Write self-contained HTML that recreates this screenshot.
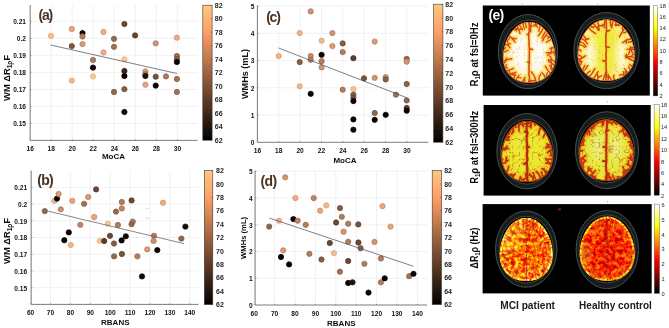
<!DOCTYPE html><html><head><meta charset="utf-8"><style>html,body{margin:0;padding:0;background:#fff}svg{display:block}</style></head><body><svg width="669" height="328" viewBox="0 0 669 328">
<defs>
<linearGradient id="gcopper" x1="0" y1="0" x2="0" y2="1"><stop offset="0.00" stop-color="#ffc77f"/><stop offset="0.10" stop-color="#ffb372"/><stop offset="0.20" stop-color="#ff9f65"/><stop offset="0.30" stop-color="#df8b59"/><stop offset="0.40" stop-color="#bf784c"/><stop offset="0.50" stop-color="#9f643f"/><stop offset="0.60" stop-color="#805033"/><stop offset="0.70" stop-color="#603c26"/><stop offset="0.80" stop-color="#402819"/><stop offset="0.90" stop-color="#20140d"/><stop offset="1.00" stop-color="#000000"/></linearGradient>
<linearGradient id="ghot" x1="0" y1="0" x2="0" y2="1"><stop offset="0.0000" stop-color="#ffffff"/><stop offset="0.0625" stop-color="#ffffbf"/><stop offset="0.1250" stop-color="#ffff80"/><stop offset="0.1875" stop-color="#ffff40"/><stop offset="0.2500" stop-color="#ffff00"/><stop offset="0.3125" stop-color="#ffd400"/><stop offset="0.3750" stop-color="#ffaa00"/><stop offset="0.4375" stop-color="#ff8000"/><stop offset="0.5000" stop-color="#ff5500"/><stop offset="0.5625" stop-color="#ff2a00"/><stop offset="0.6250" stop-color="#ff0000"/><stop offset="0.6875" stop-color="#d40000"/><stop offset="0.7500" stop-color="#aa0000"/><stop offset="0.8125" stop-color="#800000"/><stop offset="0.8750" stop-color="#550000"/><stop offset="0.9375" stop-color="#2a0000"/><stop offset="1.0000" stop-color="#000000"/></linearGradient>
<filter id="gsoft" x="0" y="0" width="669" height="328" filterUnits="userSpaceOnUse"><feGaussianBlur stdDeviation="0.3"/></filter>
<filter id="soft" x="-5%" y="-5%" width="110%" height="110%"><feGaussianBlur stdDeviation="0.35"/></filter><filter id="blur3" x="-50%" y="-50%" width="200%" height="200%"><feGaussianBlur stdDeviation="3"/></filter>
</defs>
<style>.tk{font:bold 6.6px "Liberation Sans", sans-serif;fill:#141414}.ttl{font:bold 8px "Liberation Sans", sans-serif;fill:#101010}.pl{font:bold 14px "Liberation Sans", sans-serif;fill:#4a3222}.cbl{font:bold 7px "Liberation Sans", sans-serif;fill:#262626}.yl{font:bold 9.4px "Liberation Sans", sans-serif;fill:#101010}.el{font:bold 11px "Liberation Sans", sans-serif;fill:#101010}.hb{font:5.6px "Liberation Sans", sans-serif;fill:#222}</style>
<rect width="669" height="328" fill="#ffffff"/>
<g filter="url(#gsoft)">
<line x1="30.15" y1="5" x2="30.15" y2="140.4" stroke="#ebebee" stroke-width="0.7"/>
<line x1="51.19" y1="5" x2="51.19" y2="140.4" stroke="#ebebee" stroke-width="0.7"/>
<line x1="72.23" y1="5" x2="72.23" y2="140.4" stroke="#ebebee" stroke-width="0.7"/>
<line x1="93.27" y1="5" x2="93.27" y2="140.4" stroke="#ebebee" stroke-width="0.7"/>
<line x1="114.31" y1="5" x2="114.31" y2="140.4" stroke="#ebebee" stroke-width="0.7"/>
<line x1="135.35" y1="5" x2="135.35" y2="140.4" stroke="#ebebee" stroke-width="0.7"/>
<line x1="156.39" y1="5" x2="156.39" y2="140.4" stroke="#ebebee" stroke-width="0.7"/>
<line x1="177.43" y1="5" x2="177.43" y2="140.4" stroke="#ebebee" stroke-width="0.7"/>
<line x1="30.2" y1="123.47" x2="197.5" y2="123.47" stroke="#ebebee" stroke-width="0.7"/>
<line x1="30.2" y1="106.44" x2="197.5" y2="106.44" stroke="#ebebee" stroke-width="0.7"/>
<line x1="30.2" y1="89.41" x2="197.5" y2="89.41" stroke="#ebebee" stroke-width="0.7"/>
<line x1="30.2" y1="72.38" x2="197.5" y2="72.38" stroke="#ebebee" stroke-width="0.7"/>
<line x1="30.2" y1="55.35" x2="197.5" y2="55.35" stroke="#ebebee" stroke-width="0.7"/>
<line x1="30.2" y1="38.32" x2="197.5" y2="38.32" stroke="#ebebee" stroke-width="0.7"/>
<line x1="30.2" y1="21.29" x2="197.5" y2="21.29" stroke="#ebebee" stroke-width="0.7"/>
<path d="M30.2 5V140.4H197.5" fill="none" stroke="#6e6e6e" stroke-width="0.9"/>
<line x1="30.15" y1="140.4" x2="30.15" y2="139.1" stroke="#6e6e6e" stroke-width="0.6"/>
<line x1="51.19" y1="140.4" x2="51.19" y2="139.1" stroke="#6e6e6e" stroke-width="0.6"/>
<line x1="72.23" y1="140.4" x2="72.23" y2="139.1" stroke="#6e6e6e" stroke-width="0.6"/>
<line x1="93.27" y1="140.4" x2="93.27" y2="139.1" stroke="#6e6e6e" stroke-width="0.6"/>
<line x1="114.31" y1="140.4" x2="114.31" y2="139.1" stroke="#6e6e6e" stroke-width="0.6"/>
<line x1="135.35" y1="140.4" x2="135.35" y2="139.1" stroke="#6e6e6e" stroke-width="0.6"/>
<line x1="156.39" y1="140.4" x2="156.39" y2="139.1" stroke="#6e6e6e" stroke-width="0.6"/>
<line x1="177.43" y1="140.4" x2="177.43" y2="139.1" stroke="#6e6e6e" stroke-width="0.6"/>
<line x1="30.2" y1="123.47" x2="31.5" y2="123.47" stroke="#6e6e6e" stroke-width="0.6"/>
<line x1="30.2" y1="106.44" x2="31.5" y2="106.44" stroke="#6e6e6e" stroke-width="0.6"/>
<line x1="30.2" y1="89.41" x2="31.5" y2="89.41" stroke="#6e6e6e" stroke-width="0.6"/>
<line x1="30.2" y1="72.38" x2="31.5" y2="72.38" stroke="#6e6e6e" stroke-width="0.6"/>
<line x1="30.2" y1="55.35" x2="31.5" y2="55.35" stroke="#6e6e6e" stroke-width="0.6"/>
<line x1="30.2" y1="38.32" x2="31.5" y2="38.32" stroke="#6e6e6e" stroke-width="0.6"/>
<line x1="30.2" y1="21.29" x2="31.5" y2="21.29" stroke="#6e6e6e" stroke-width="0.6"/>
<text x="30.15" y="151.0" text-anchor="middle" class="tk">16</text>
<text x="51.19" y="151.0" text-anchor="middle" class="tk">18</text>
<text x="72.23" y="151.0" text-anchor="middle" class="tk">20</text>
<text x="93.27" y="151.0" text-anchor="middle" class="tk">22</text>
<text x="114.31" y="151.0" text-anchor="middle" class="tk">24</text>
<text x="135.35" y="151.0" text-anchor="middle" class="tk">26</text>
<text x="156.39" y="151.0" text-anchor="middle" class="tk">28</text>
<text x="177.43" y="151.0" text-anchor="middle" class="tk">30</text>
<text x="26.0" y="126.32" text-anchor="end" class="tk">0.15</text>
<text x="26.0" y="109.29" text-anchor="end" class="tk">0.16</text>
<text x="26.0" y="92.26" text-anchor="end" class="tk">0.17</text>
<text x="26.0" y="75.23" text-anchor="end" class="tk">0.18</text>
<text x="26.0" y="58.20" text-anchor="end" class="tk">0.19</text>
<text x="26.0" y="41.17" text-anchor="end" class="tk">0.2</text>
<text x="26.0" y="24.14" text-anchor="end" class="tk">0.21</text>
<text x="113.5" y="159.0" text-anchor="middle" class="ttl">MoCA</text>
<text x="38.5" y="20.0" class="pl" letter-spacing="-1.25">(a)</text>
<circle cx="51.0" cy="35.9" r="2.65" fill="#f0c08f" stroke="#e4a179" stroke-width="0.75"/>
<circle cx="71.8" cy="29.0" r="2.65" fill="#eaa57b" stroke="#c08865" stroke-width="0.75"/>
<circle cx="71.8" cy="46.1" r="2.65" fill="#7b5741" stroke="#654836" stroke-width="0.75"/>
<circle cx="82.5" cy="33.1" r="2.65" fill="#090605" stroke="#070504" stroke-width="0.75"/>
<circle cx="82.5" cy="36.5" r="2.65" fill="#b07d5d" stroke="#90664c" stroke-width="0.75"/>
<circle cx="82.5" cy="44.1" r="2.65" fill="#dc9b74" stroke="#b4805f" stroke-width="0.75"/>
<circle cx="103.5" cy="32.0" r="2.65" fill="#ecae82" stroke="#cc906c" stroke-width="0.75"/>
<circle cx="103.5" cy="52.5" r="2.65" fill="#ecae82" stroke="#cc906c" stroke-width="0.75"/>
<circle cx="114" cy="38.8" r="2.65" fill="#92684d" stroke="#785540" stroke-width="0.75"/>
<circle cx="114" cy="46.8" r="2.65" fill="#a17255" stroke="#845d46" stroke-width="0.75"/>
<circle cx="93" cy="60" r="2.65" fill="#b07d5d" stroke="#90664c" stroke-width="0.75"/>
<circle cx="93" cy="67.6" r="2.65" fill="#090605" stroke="#070504" stroke-width="0.75"/>
<circle cx="93" cy="76.4" r="2.65" fill="#f2c996" stroke="#eba97e" stroke-width="0.75"/>
<circle cx="71.8" cy="80.6" r="2.65" fill="#efbb8b" stroke="#dd9c75" stroke-width="0.75"/>
<circle cx="114" cy="92" r="2.65" fill="#92684d" stroke="#785540" stroke-width="0.75"/>
<circle cx="124.4" cy="24" r="2.65" fill="#674936" stroke="#543b2c" stroke-width="0.75"/>
<circle cx="135.1" cy="35.4" r="2.65" fill="#634735" stroke="#523a2b" stroke-width="0.75"/>
<circle cx="155.7" cy="43.4" r="2.65" fill="#d2956f" stroke="#ad7a5c" stroke-width="0.75"/>
<circle cx="176.9" cy="37.7" r="2.65" fill="#ecae82" stroke="#cc906c" stroke-width="0.75"/>
<circle cx="124.4" cy="59.4" r="2.65" fill="#f2c996" stroke="#eba97e" stroke-width="0.75"/>
<circle cx="176.9" cy="56" r="2.65" fill="#a17255" stroke="#845d46" stroke-width="0.75"/>
<circle cx="176.9" cy="59" r="2.65" fill="#845d46" stroke="#6d4d39" stroke-width="0.75"/>
<circle cx="176.9" cy="62" r="2.65" fill="#090605" stroke="#070504" stroke-width="0.75"/>
<circle cx="124.4" cy="71" r="2.65" fill="#3b2a1f" stroke="#30221a" stroke-width="0.75"/>
<circle cx="124.4" cy="76" r="2.65" fill="#090605" stroke="#070504" stroke-width="0.75"/>
<circle cx="145.4" cy="71.4" r="2.65" fill="#dc9b74" stroke="#b4805f" stroke-width="0.75"/>
<circle cx="145.4" cy="74.2" r="2.65" fill="#b07d5d" stroke="#90664c" stroke-width="0.75"/>
<circle cx="145.4" cy="76" r="2.65" fill="#1d1510" stroke="#18110c" stroke-width="0.75"/>
<circle cx="155.7" cy="76.7" r="2.65" fill="#76533e" stroke="#604433" stroke-width="0.75"/>
<circle cx="166" cy="76.4" r="2.65" fill="#b07d5d" stroke="#90664c" stroke-width="0.75"/>
<circle cx="176.9" cy="79" r="2.65" fill="#a17255" stroke="#845d46" stroke-width="0.75"/>
<circle cx="145.4" cy="84.7" r="2.65" fill="#eaa57b" stroke="#c08865" stroke-width="0.75"/>
<circle cx="155.7" cy="85.6" r="2.65" fill="#090605" stroke="#070504" stroke-width="0.75"/>
<circle cx="124.4" cy="89.2" r="2.65" fill="#845d46" stroke="#6d4d39" stroke-width="0.75"/>
<circle cx="176.9" cy="92" r="2.65" fill="#a17255" stroke="#845d46" stroke-width="0.75"/>
<circle cx="124.4" cy="112" r="2.65" fill="#0f0a07" stroke="#0c0806" stroke-width="0.75"/>
<line x1="50.5" y1="45.0" x2="177" y2="73.5" stroke="#3e4a5e" stroke-width="0.7"/>
<rect x="202.8" y="5.2" width="9.299999999999983" height="135.0" fill="url(#gcopper)" stroke="#3a3a3a" stroke-width="0.6"/>
<line x1="210.9" y1="140.20" x2="212.1" y2="140.20" stroke="#3a3a3a" stroke-width="0.5"/>
<text x="214.8" y="142.80" class="cbl">62</text>
<line x1="210.9" y1="126.70" x2="212.1" y2="126.70" stroke="#3a3a3a" stroke-width="0.5"/>
<text x="214.8" y="129.30" class="cbl">64</text>
<line x1="210.9" y1="113.20" x2="212.1" y2="113.20" stroke="#3a3a3a" stroke-width="0.5"/>
<text x="214.8" y="115.80" class="cbl">66</text>
<line x1="210.9" y1="99.70" x2="212.1" y2="99.70" stroke="#3a3a3a" stroke-width="0.5"/>
<text x="214.8" y="102.30" class="cbl">68</text>
<line x1="210.9" y1="86.20" x2="212.1" y2="86.20" stroke="#3a3a3a" stroke-width="0.5"/>
<text x="214.8" y="88.80" class="cbl">70</text>
<line x1="210.9" y1="72.70" x2="212.1" y2="72.70" stroke="#3a3a3a" stroke-width="0.5"/>
<text x="214.8" y="75.30" class="cbl">72</text>
<line x1="210.9" y1="59.20" x2="212.1" y2="59.20" stroke="#3a3a3a" stroke-width="0.5"/>
<text x="214.8" y="61.80" class="cbl">74</text>
<line x1="210.9" y1="45.70" x2="212.1" y2="45.70" stroke="#3a3a3a" stroke-width="0.5"/>
<text x="214.8" y="48.30" class="cbl">76</text>
<line x1="210.9" y1="32.20" x2="212.1" y2="32.20" stroke="#3a3a3a" stroke-width="0.5"/>
<text x="214.8" y="34.80" class="cbl">78</text>
<line x1="210.9" y1="18.70" x2="212.1" y2="18.70" stroke="#3a3a3a" stroke-width="0.5"/>
<text x="214.8" y="21.30" class="cbl">80</text>
<line x1="210.9" y1="5.20" x2="212.1" y2="5.20" stroke="#3a3a3a" stroke-width="0.5"/>
<text x="214.8" y="7.80" class="cbl">82</text>
<line x1="30.60" y1="170.6" x2="30.60" y2="304.4" stroke="#ebebee" stroke-width="0.7"/>
<line x1="50.50" y1="170.6" x2="50.50" y2="304.4" stroke="#ebebee" stroke-width="0.7"/>
<line x1="70.40" y1="170.6" x2="70.40" y2="304.4" stroke="#ebebee" stroke-width="0.7"/>
<line x1="90.30" y1="170.6" x2="90.30" y2="304.4" stroke="#ebebee" stroke-width="0.7"/>
<line x1="110.20" y1="170.6" x2="110.20" y2="304.4" stroke="#ebebee" stroke-width="0.7"/>
<line x1="130.10" y1="170.6" x2="130.10" y2="304.4" stroke="#ebebee" stroke-width="0.7"/>
<line x1="150.00" y1="170.6" x2="150.00" y2="304.4" stroke="#ebebee" stroke-width="0.7"/>
<line x1="169.90" y1="170.6" x2="169.90" y2="304.4" stroke="#ebebee" stroke-width="0.7"/>
<line x1="189.80" y1="170.6" x2="189.80" y2="304.4" stroke="#ebebee" stroke-width="0.7"/>
<line x1="31.2" y1="287.68" x2="198.5" y2="287.68" stroke="#ebebee" stroke-width="0.7"/>
<line x1="31.2" y1="270.96" x2="198.5" y2="270.96" stroke="#ebebee" stroke-width="0.7"/>
<line x1="31.2" y1="254.24" x2="198.5" y2="254.24" stroke="#ebebee" stroke-width="0.7"/>
<line x1="31.2" y1="237.52" x2="198.5" y2="237.52" stroke="#ebebee" stroke-width="0.7"/>
<line x1="31.2" y1="220.80" x2="198.5" y2="220.80" stroke="#ebebee" stroke-width="0.7"/>
<line x1="31.2" y1="204.08" x2="198.5" y2="204.08" stroke="#ebebee" stroke-width="0.7"/>
<line x1="31.2" y1="187.36" x2="198.5" y2="187.36" stroke="#ebebee" stroke-width="0.7"/>
<path d="M31.2 170.6V304.4H198.5" fill="none" stroke="#6e6e6e" stroke-width="0.9"/>
<line x1="30.60" y1="304.4" x2="30.60" y2="303.09999999999997" stroke="#6e6e6e" stroke-width="0.6"/>
<line x1="50.50" y1="304.4" x2="50.50" y2="303.09999999999997" stroke="#6e6e6e" stroke-width="0.6"/>
<line x1="70.40" y1="304.4" x2="70.40" y2="303.09999999999997" stroke="#6e6e6e" stroke-width="0.6"/>
<line x1="90.30" y1="304.4" x2="90.30" y2="303.09999999999997" stroke="#6e6e6e" stroke-width="0.6"/>
<line x1="110.20" y1="304.4" x2="110.20" y2="303.09999999999997" stroke="#6e6e6e" stroke-width="0.6"/>
<line x1="130.10" y1="304.4" x2="130.10" y2="303.09999999999997" stroke="#6e6e6e" stroke-width="0.6"/>
<line x1="150.00" y1="304.4" x2="150.00" y2="303.09999999999997" stroke="#6e6e6e" stroke-width="0.6"/>
<line x1="169.90" y1="304.4" x2="169.90" y2="303.09999999999997" stroke="#6e6e6e" stroke-width="0.6"/>
<line x1="189.80" y1="304.4" x2="189.80" y2="303.09999999999997" stroke="#6e6e6e" stroke-width="0.6"/>
<line x1="31.2" y1="287.68" x2="32.5" y2="287.68" stroke="#6e6e6e" stroke-width="0.6"/>
<line x1="31.2" y1="270.96" x2="32.5" y2="270.96" stroke="#6e6e6e" stroke-width="0.6"/>
<line x1="31.2" y1="254.24" x2="32.5" y2="254.24" stroke="#6e6e6e" stroke-width="0.6"/>
<line x1="31.2" y1="237.52" x2="32.5" y2="237.52" stroke="#6e6e6e" stroke-width="0.6"/>
<line x1="31.2" y1="220.80" x2="32.5" y2="220.80" stroke="#6e6e6e" stroke-width="0.6"/>
<line x1="31.2" y1="204.08" x2="32.5" y2="204.08" stroke="#6e6e6e" stroke-width="0.6"/>
<line x1="31.2" y1="187.36" x2="32.5" y2="187.36" stroke="#6e6e6e" stroke-width="0.6"/>
<text x="30.60" y="315.2" text-anchor="middle" class="tk">60</text>
<text x="50.50" y="315.2" text-anchor="middle" class="tk">70</text>
<text x="70.40" y="315.2" text-anchor="middle" class="tk">80</text>
<text x="90.30" y="315.2" text-anchor="middle" class="tk">90</text>
<text x="110.20" y="315.2" text-anchor="middle" class="tk">100</text>
<text x="130.10" y="315.2" text-anchor="middle" class="tk">110</text>
<text x="150.00" y="315.2" text-anchor="middle" class="tk">120</text>
<text x="169.90" y="315.2" text-anchor="middle" class="tk">130</text>
<text x="189.80" y="315.2" text-anchor="middle" class="tk">140</text>
<text x="27.2" y="290.53" text-anchor="end" class="tk">0.15</text>
<text x="27.2" y="273.81" text-anchor="end" class="tk">0.16</text>
<text x="27.2" y="257.09" text-anchor="end" class="tk">0.17</text>
<text x="27.2" y="240.37" text-anchor="end" class="tk">0.18</text>
<text x="27.2" y="223.65" text-anchor="end" class="tk">0.19</text>
<text x="27.2" y="206.93" text-anchor="end" class="tk">0.2</text>
<text x="27.2" y="190.21" text-anchor="end" class="tk">0.21</text>
<text x="115.3" y="325.4" text-anchor="middle" class="ttl">RBANS</text>
<text x="37.3" y="185.1" class="pl" letter-spacing="-0.70">(b)</text>
<circle cx="44.8" cy="211.1" r="2.65" fill="#92684d" stroke="#785540" stroke-width="0.75"/>
<circle cx="54.4" cy="200.8" r="2.65" fill="#eeb788" stroke="#d89973" stroke-width="0.75"/>
<circle cx="57" cy="198.6" r="2.65" fill="#090605" stroke="#070504" stroke-width="0.75"/>
<circle cx="58.6" cy="194" r="2.65" fill="#dc9b74" stroke="#b4805f" stroke-width="0.75"/>
<circle cx="60.8" cy="209.3" r="2.65" fill="#cd906c" stroke="#a87659" stroke-width="0.75"/>
<circle cx="72.3" cy="200.8" r="2.65" fill="#eaa57b" stroke="#c08865" stroke-width="0.75"/>
<circle cx="84.1" cy="203.8" r="2.65" fill="#a17255" stroke="#845d46" stroke-width="0.75"/>
<circle cx="88.2" cy="197" r="2.65" fill="#dc9b74" stroke="#b4805f" stroke-width="0.75"/>
<circle cx="96.1" cy="189.4" r="2.65" fill="#674936" stroke="#543b2c" stroke-width="0.75"/>
<circle cx="94.2" cy="217.0" r="2.65" fill="#eaa57b" stroke="#c08865" stroke-width="0.75"/>
<circle cx="80.3" cy="224.8" r="2.65" fill="#be8664" stroke="#9c6e53" stroke-width="0.75"/>
<circle cx="68.8" cy="232.4" r="2.65" fill="#090605" stroke="#070504" stroke-width="0.75"/>
<circle cx="64.3" cy="240.2" r="2.65" fill="#090605" stroke="#070504" stroke-width="0.75"/>
<circle cx="70.7" cy="245.0" r="2.65" fill="#eeb788" stroke="#d89973" stroke-width="0.75"/>
<circle cx="107.8" cy="223.6" r="2.65" fill="#f2c996" stroke="#eba97e" stroke-width="0.75"/>
<circle cx="116.0" cy="211.6" r="2.65" fill="#92684d" stroke="#785540" stroke-width="0.75"/>
<circle cx="117.9" cy="225.0" r="2.65" fill="#b07d5d" stroke="#90664c" stroke-width="0.75"/>
<circle cx="110.0" cy="235.8" r="2.65" fill="#674936" stroke="#543b2c" stroke-width="0.75"/>
<circle cx="99.7" cy="240.8" r="2.65" fill="#f2c996" stroke="#eba97e" stroke-width="0.75"/>
<circle cx="104.2" cy="241.0" r="2.65" fill="#583e2e" stroke="#483326" stroke-width="0.75"/>
<circle cx="114.0" cy="243.5" r="2.65" fill="#845d46" stroke="#6d4d39" stroke-width="0.75"/>
<circle cx="121.8" cy="202.0" r="2.65" fill="#b07d5d" stroke="#90664c" stroke-width="0.75"/>
<circle cx="131.6" cy="200.4" r="2.65" fill="#674936" stroke="#543b2c" stroke-width="0.75"/>
<circle cx="121.8" cy="208.4" r="2.65" fill="#be8664" stroke="#9c6e53" stroke-width="0.75"/>
<circle cx="163.0" cy="202.7" r="2.65" fill="#ecae82" stroke="#cc906c" stroke-width="0.75"/>
<circle cx="132.8" cy="221.6" r="2.65" fill="#b07d5d" stroke="#90664c" stroke-width="0.75"/>
<circle cx="131.6" cy="224.2" r="2.65" fill="#92684d" stroke="#785540" stroke-width="0.75"/>
<circle cx="125.8" cy="236.3" r="2.65" fill="#0f0a07" stroke="#0c0806" stroke-width="0.75"/>
<circle cx="121.6" cy="240.4" r="2.65" fill="#090605" stroke="#070504" stroke-width="0.75"/>
<circle cx="154.0" cy="235.8" r="2.65" fill="#b07d5d" stroke="#90664c" stroke-width="0.75"/>
<circle cx="153.6" cy="240.9" r="2.65" fill="#cd906c" stroke="#a87659" stroke-width="0.75"/>
<circle cx="185.4" cy="226.6" r="2.65" fill="#0f0a07" stroke="#0c0806" stroke-width="0.75"/>
<circle cx="181.4" cy="238.6" r="2.65" fill="#92684d" stroke="#785540" stroke-width="0.75"/>
<circle cx="147.2" cy="249.4" r="2.65" fill="#dc9b74" stroke="#b4805f" stroke-width="0.75"/>
<circle cx="157.3" cy="250.1" r="2.65" fill="#090605" stroke="#070504" stroke-width="0.75"/>
<circle cx="114.1" cy="256.3" r="2.65" fill="#92684d" stroke="#785540" stroke-width="0.75"/>
<circle cx="121.9" cy="254.0" r="2.65" fill="#76533e" stroke="#604433" stroke-width="0.75"/>
<circle cx="137.4" cy="256.3" r="2.65" fill="#b07d5d" stroke="#90664c" stroke-width="0.75"/>
<circle cx="142.0" cy="276.4" r="2.65" fill="#0f0a07" stroke="#0c0806" stroke-width="0.75"/>
<line x1="47.8" y1="211.1" x2="184.2" y2="243.7" stroke="#5c5450" stroke-width="0.7"/>
<rect x="204.3" y="170.6" width="8.5" height="134.00000000000003" fill="url(#gcopper)" stroke="#3a3a3a" stroke-width="0.6"/>
<line x1="211.60000000000002" y1="304.60" x2="212.8" y2="304.60" stroke="#3a3a3a" stroke-width="0.5"/>
<text x="216.0" y="307.20" class="cbl">62</text>
<line x1="211.60000000000002" y1="291.20" x2="212.8" y2="291.20" stroke="#3a3a3a" stroke-width="0.5"/>
<text x="216.0" y="293.80" class="cbl">64</text>
<line x1="211.60000000000002" y1="277.80" x2="212.8" y2="277.80" stroke="#3a3a3a" stroke-width="0.5"/>
<text x="216.0" y="280.40" class="cbl">66</text>
<line x1="211.60000000000002" y1="264.40" x2="212.8" y2="264.40" stroke="#3a3a3a" stroke-width="0.5"/>
<text x="216.0" y="267.00" class="cbl">68</text>
<line x1="211.60000000000002" y1="251.00" x2="212.8" y2="251.00" stroke="#3a3a3a" stroke-width="0.5"/>
<text x="216.0" y="253.60" class="cbl">70</text>
<line x1="211.60000000000002" y1="237.60" x2="212.8" y2="237.60" stroke="#3a3a3a" stroke-width="0.5"/>
<text x="216.0" y="240.20" class="cbl">72</text>
<line x1="211.60000000000002" y1="224.20" x2="212.8" y2="224.20" stroke="#3a3a3a" stroke-width="0.5"/>
<text x="216.0" y="226.80" class="cbl">74</text>
<line x1="211.60000000000002" y1="210.80" x2="212.8" y2="210.80" stroke="#3a3a3a" stroke-width="0.5"/>
<text x="216.0" y="213.40" class="cbl">76</text>
<line x1="211.60000000000002" y1="197.40" x2="212.8" y2="197.40" stroke="#3a3a3a" stroke-width="0.5"/>
<text x="216.0" y="200.00" class="cbl">78</text>
<line x1="211.60000000000002" y1="184.00" x2="212.8" y2="184.00" stroke="#3a3a3a" stroke-width="0.5"/>
<text x="216.0" y="186.60" class="cbl">80</text>
<line x1="211.60000000000002" y1="170.60" x2="212.8" y2="170.60" stroke="#3a3a3a" stroke-width="0.5"/>
<text x="216.0" y="173.20" class="cbl">82</text>
<line x1="257.40" y1="5.5" x2="257.40" y2="142.3" stroke="#ebebee" stroke-width="0.7"/>
<line x1="278.76" y1="5.5" x2="278.76" y2="142.3" stroke="#ebebee" stroke-width="0.7"/>
<line x1="300.12" y1="5.5" x2="300.12" y2="142.3" stroke="#ebebee" stroke-width="0.7"/>
<line x1="321.48" y1="5.5" x2="321.48" y2="142.3" stroke="#ebebee" stroke-width="0.7"/>
<line x1="342.84" y1="5.5" x2="342.84" y2="142.3" stroke="#ebebee" stroke-width="0.7"/>
<line x1="364.20" y1="5.5" x2="364.20" y2="142.3" stroke="#ebebee" stroke-width="0.7"/>
<line x1="385.56" y1="5.5" x2="385.56" y2="142.3" stroke="#ebebee" stroke-width="0.7"/>
<line x1="406.92" y1="5.5" x2="406.92" y2="142.3" stroke="#ebebee" stroke-width="0.7"/>
<line x1="257.4" y1="115.05" x2="428.4" y2="115.05" stroke="#ebebee" stroke-width="0.7"/>
<line x1="257.4" y1="87.80" x2="428.4" y2="87.80" stroke="#ebebee" stroke-width="0.7"/>
<line x1="257.4" y1="60.55" x2="428.4" y2="60.55" stroke="#ebebee" stroke-width="0.7"/>
<line x1="257.4" y1="33.30" x2="428.4" y2="33.30" stroke="#ebebee" stroke-width="0.7"/>
<line x1="257.4" y1="6.05" x2="428.4" y2="6.05" stroke="#ebebee" stroke-width="0.7"/>
<path d="M257.4 5.5V142.3H428.4" fill="none" stroke="#6e6e6e" stroke-width="0.9"/>
<line x1="257.40" y1="142.3" x2="257.40" y2="141.0" stroke="#6e6e6e" stroke-width="0.6"/>
<line x1="278.76" y1="142.3" x2="278.76" y2="141.0" stroke="#6e6e6e" stroke-width="0.6"/>
<line x1="300.12" y1="142.3" x2="300.12" y2="141.0" stroke="#6e6e6e" stroke-width="0.6"/>
<line x1="321.48" y1="142.3" x2="321.48" y2="141.0" stroke="#6e6e6e" stroke-width="0.6"/>
<line x1="342.84" y1="142.3" x2="342.84" y2="141.0" stroke="#6e6e6e" stroke-width="0.6"/>
<line x1="364.20" y1="142.3" x2="364.20" y2="141.0" stroke="#6e6e6e" stroke-width="0.6"/>
<line x1="385.56" y1="142.3" x2="385.56" y2="141.0" stroke="#6e6e6e" stroke-width="0.6"/>
<line x1="406.92" y1="142.3" x2="406.92" y2="141.0" stroke="#6e6e6e" stroke-width="0.6"/>
<line x1="257.4" y1="115.05" x2="258.7" y2="115.05" stroke="#6e6e6e" stroke-width="0.6"/>
<line x1="257.4" y1="87.80" x2="258.7" y2="87.80" stroke="#6e6e6e" stroke-width="0.6"/>
<line x1="257.4" y1="60.55" x2="258.7" y2="60.55" stroke="#6e6e6e" stroke-width="0.6"/>
<line x1="257.4" y1="33.30" x2="258.7" y2="33.30" stroke="#6e6e6e" stroke-width="0.6"/>
<line x1="257.4" y1="6.05" x2="258.7" y2="6.05" stroke="#6e6e6e" stroke-width="0.6"/>
<text x="257.40" y="153.2" text-anchor="middle" class="tk">16</text>
<text x="278.76" y="153.2" text-anchor="middle" class="tk">18</text>
<text x="300.12" y="153.2" text-anchor="middle" class="tk">20</text>
<text x="321.48" y="153.2" text-anchor="middle" class="tk">22</text>
<text x="342.84" y="153.2" text-anchor="middle" class="tk">24</text>
<text x="364.20" y="153.2" text-anchor="middle" class="tk">26</text>
<text x="385.56" y="153.2" text-anchor="middle" class="tk">28</text>
<text x="406.92" y="153.2" text-anchor="middle" class="tk">30</text>
<text x="254.3" y="145.15" text-anchor="end" class="tk">0</text>
<text x="254.3" y="117.90" text-anchor="end" class="tk">1</text>
<text x="254.3" y="90.65" text-anchor="end" class="tk">2</text>
<text x="254.3" y="63.40" text-anchor="end" class="tk">3</text>
<text x="254.3" y="36.15" text-anchor="end" class="tk">4</text>
<text x="254.3" y="8.90" text-anchor="end" class="tk">5</text>
<text x="345.0" y="162.7" text-anchor="middle" class="ttl">MoCA</text>
<text x="266.2" y="22.1" class="pl" letter-spacing="-1.25">(c)</text>
<circle cx="310.7" cy="11.4" r="2.65" fill="#cd906c" stroke="#a87659" stroke-width="0.75"/>
<circle cx="299.7" cy="33.1" r="2.65" fill="#edb486" stroke="#d39670" stroke-width="0.75"/>
<circle cx="332.4" cy="33.1" r="2.65" fill="#d2956f" stroke="#ad7a5c" stroke-width="0.75"/>
<circle cx="321.6" cy="40.7" r="2.65" fill="#efbb8b" stroke="#dd9c75" stroke-width="0.75"/>
<circle cx="332.4" cy="46.1" r="2.65" fill="#dc9b74" stroke="#b4805f" stroke-width="0.75"/>
<circle cx="342.7" cy="43.4" r="2.65" fill="#845d46" stroke="#6d4d39" stroke-width="0.75"/>
<circle cx="342.7" cy="52.1" r="2.65" fill="#b07d5d" stroke="#90664c" stroke-width="0.75"/>
<circle cx="278.7" cy="56" r="2.65" fill="#eeb788" stroke="#d89973" stroke-width="0.75"/>
<circle cx="321.6" cy="54.8" r="2.65" fill="#090605" stroke="#070504" stroke-width="0.75"/>
<circle cx="310.7" cy="56" r="2.65" fill="#c78c69" stroke="#a47357" stroke-width="0.75"/>
<circle cx="310.7" cy="59.8" r="2.65" fill="#b68160" stroke="#95694e" stroke-width="0.75"/>
<circle cx="299.7" cy="62.1" r="2.65" fill="#845d46" stroke="#6d4d39" stroke-width="0.75"/>
<circle cx="321.6" cy="61.2" r="2.65" fill="#b07d5d" stroke="#90664c" stroke-width="0.75"/>
<circle cx="321.6" cy="67.4" r="2.65" fill="#d2956f" stroke="#ad7a5c" stroke-width="0.75"/>
<circle cx="299.7" cy="86.3" r="2.65" fill="#eeb788" stroke="#d89973" stroke-width="0.75"/>
<circle cx="310.7" cy="93.8" r="2.65" fill="#090605" stroke="#070504" stroke-width="0.75"/>
<circle cx="342.7" cy="89.7" r="2.65" fill="#b07d5d" stroke="#90664c" stroke-width="0.75"/>
<circle cx="353.4" cy="58.2" r="2.65" fill="#583e2e" stroke="#483326" stroke-width="0.75"/>
<circle cx="374.7" cy="41.6" r="2.65" fill="#dc9b74" stroke="#b4805f" stroke-width="0.75"/>
<circle cx="406.7" cy="58.9" r="2.65" fill="#92684d" stroke="#785540" stroke-width="0.75"/>
<circle cx="406.7" cy="61.7" r="2.65" fill="#d2956f" stroke="#ad7a5c" stroke-width="0.75"/>
<circle cx="364.0" cy="78.3" r="2.65" fill="#76533e" stroke="#604433" stroke-width="0.75"/>
<circle cx="374.7" cy="77.8" r="2.65" fill="#d2956f" stroke="#ad7a5c" stroke-width="0.75"/>
<circle cx="385.7" cy="77.1" r="2.65" fill="#cd906c" stroke="#a87659" stroke-width="0.75"/>
<circle cx="385.7" cy="79.4" r="2.65" fill="#845d46" stroke="#6d4d39" stroke-width="0.75"/>
<circle cx="406.7" cy="84.0" r="2.65" fill="#8d644a" stroke="#73513d" stroke-width="0.75"/>
<circle cx="353.4" cy="89.0" r="2.65" fill="#f1c693" stroke="#eba67c" stroke-width="0.75"/>
<circle cx="353.4" cy="94.7" r="2.65" fill="#845d46" stroke="#6d4d39" stroke-width="0.75"/>
<circle cx="353.4" cy="97.7" r="2.65" fill="#76533e" stroke="#604433" stroke-width="0.75"/>
<circle cx="353.4" cy="101.1" r="2.65" fill="#090605" stroke="#070504" stroke-width="0.75"/>
<circle cx="395.9" cy="94.7" r="2.65" fill="#a17255" stroke="#845d46" stroke-width="0.75"/>
<circle cx="406.7" cy="100.4" r="2.65" fill="#92684d" stroke="#785540" stroke-width="0.75"/>
<circle cx="406.7" cy="108.0" r="2.65" fill="#583e2e" stroke="#483326" stroke-width="0.75"/>
<circle cx="406.7" cy="110.7" r="2.65" fill="#090605" stroke="#070504" stroke-width="0.75"/>
<circle cx="374.7" cy="113.0" r="2.65" fill="#92684d" stroke="#785540" stroke-width="0.75"/>
<circle cx="385.7" cy="114.8" r="2.65" fill="#090605" stroke="#070504" stroke-width="0.75"/>
<circle cx="374.7" cy="119.8" r="2.65" fill="#090605" stroke="#070504" stroke-width="0.75"/>
<circle cx="353.4" cy="119.4" r="2.65" fill="#090605" stroke="#070504" stroke-width="0.75"/>
<circle cx="353.4" cy="129.7" r="2.65" fill="#0f0a07" stroke="#0c0806" stroke-width="0.75"/>
<line x1="278.7" y1="48.0" x2="406.7" y2="97.7" stroke="#3e4a5e" stroke-width="0.7"/>
<rect x="433.6" y="4.2" width="9.299999999999955" height="138.0" fill="url(#gcopper)" stroke="#3a3a3a" stroke-width="0.6"/>
<line x1="441.7" y1="142.20" x2="442.9" y2="142.20" stroke="#3a3a3a" stroke-width="0.5"/>
<text x="445.3" y="144.80" class="cbl">62</text>
<line x1="441.7" y1="128.40" x2="442.9" y2="128.40" stroke="#3a3a3a" stroke-width="0.5"/>
<text x="445.3" y="131.00" class="cbl">64</text>
<line x1="441.7" y1="114.60" x2="442.9" y2="114.60" stroke="#3a3a3a" stroke-width="0.5"/>
<text x="445.3" y="117.20" class="cbl">66</text>
<line x1="441.7" y1="100.80" x2="442.9" y2="100.80" stroke="#3a3a3a" stroke-width="0.5"/>
<text x="445.3" y="103.40" class="cbl">68</text>
<line x1="441.7" y1="87.00" x2="442.9" y2="87.00" stroke="#3a3a3a" stroke-width="0.5"/>
<text x="445.3" y="89.60" class="cbl">70</text>
<line x1="441.7" y1="73.20" x2="442.9" y2="73.20" stroke="#3a3a3a" stroke-width="0.5"/>
<text x="445.3" y="75.80" class="cbl">72</text>
<line x1="441.7" y1="59.40" x2="442.9" y2="59.40" stroke="#3a3a3a" stroke-width="0.5"/>
<text x="445.3" y="62.00" class="cbl">74</text>
<line x1="441.7" y1="45.60" x2="442.9" y2="45.60" stroke="#3a3a3a" stroke-width="0.5"/>
<text x="445.3" y="48.20" class="cbl">76</text>
<line x1="441.7" y1="31.80" x2="442.9" y2="31.80" stroke="#3a3a3a" stroke-width="0.5"/>
<text x="445.3" y="34.40" class="cbl">78</text>
<line x1="441.7" y1="18.00" x2="442.9" y2="18.00" stroke="#3a3a3a" stroke-width="0.5"/>
<text x="445.3" y="20.60" class="cbl">80</text>
<line x1="441.7" y1="4.20" x2="442.9" y2="4.20" stroke="#3a3a3a" stroke-width="0.5"/>
<text x="445.3" y="6.80" class="cbl">82</text>
<line x1="254.20" y1="170.6" x2="254.20" y2="305.0" stroke="#ebebee" stroke-width="0.7"/>
<line x1="274.60" y1="170.6" x2="274.60" y2="305.0" stroke="#ebebee" stroke-width="0.7"/>
<line x1="295.00" y1="170.6" x2="295.00" y2="305.0" stroke="#ebebee" stroke-width="0.7"/>
<line x1="315.40" y1="170.6" x2="315.40" y2="305.0" stroke="#ebebee" stroke-width="0.7"/>
<line x1="335.80" y1="170.6" x2="335.80" y2="305.0" stroke="#ebebee" stroke-width="0.7"/>
<line x1="356.20" y1="170.6" x2="356.20" y2="305.0" stroke="#ebebee" stroke-width="0.7"/>
<line x1="376.60" y1="170.6" x2="376.60" y2="305.0" stroke="#ebebee" stroke-width="0.7"/>
<line x1="397.00" y1="170.6" x2="397.00" y2="305.0" stroke="#ebebee" stroke-width="0.7"/>
<line x1="417.40" y1="170.6" x2="417.40" y2="305.0" stroke="#ebebee" stroke-width="0.7"/>
<line x1="255.1" y1="278.25" x2="427.0" y2="278.25" stroke="#ebebee" stroke-width="0.7"/>
<line x1="255.1" y1="251.50" x2="427.0" y2="251.50" stroke="#ebebee" stroke-width="0.7"/>
<line x1="255.1" y1="224.75" x2="427.0" y2="224.75" stroke="#ebebee" stroke-width="0.7"/>
<line x1="255.1" y1="198.00" x2="427.0" y2="198.00" stroke="#ebebee" stroke-width="0.7"/>
<line x1="255.1" y1="171.25" x2="427.0" y2="171.25" stroke="#ebebee" stroke-width="0.7"/>
<path d="M255.1 170.6V305.0H427.0" fill="none" stroke="#6e6e6e" stroke-width="0.9"/>
<line x1="254.20" y1="305.0" x2="254.20" y2="303.7" stroke="#6e6e6e" stroke-width="0.6"/>
<line x1="274.60" y1="305.0" x2="274.60" y2="303.7" stroke="#6e6e6e" stroke-width="0.6"/>
<line x1="295.00" y1="305.0" x2="295.00" y2="303.7" stroke="#6e6e6e" stroke-width="0.6"/>
<line x1="315.40" y1="305.0" x2="315.40" y2="303.7" stroke="#6e6e6e" stroke-width="0.6"/>
<line x1="335.80" y1="305.0" x2="335.80" y2="303.7" stroke="#6e6e6e" stroke-width="0.6"/>
<line x1="356.20" y1="305.0" x2="356.20" y2="303.7" stroke="#6e6e6e" stroke-width="0.6"/>
<line x1="376.60" y1="305.0" x2="376.60" y2="303.7" stroke="#6e6e6e" stroke-width="0.6"/>
<line x1="397.00" y1="305.0" x2="397.00" y2="303.7" stroke="#6e6e6e" stroke-width="0.6"/>
<line x1="417.40" y1="305.0" x2="417.40" y2="303.7" stroke="#6e6e6e" stroke-width="0.6"/>
<line x1="255.1" y1="278.25" x2="256.4" y2="278.25" stroke="#6e6e6e" stroke-width="0.6"/>
<line x1="255.1" y1="251.50" x2="256.4" y2="251.50" stroke="#6e6e6e" stroke-width="0.6"/>
<line x1="255.1" y1="224.75" x2="256.4" y2="224.75" stroke="#6e6e6e" stroke-width="0.6"/>
<line x1="255.1" y1="198.00" x2="256.4" y2="198.00" stroke="#6e6e6e" stroke-width="0.6"/>
<line x1="255.1" y1="171.25" x2="256.4" y2="171.25" stroke="#6e6e6e" stroke-width="0.6"/>
<text x="254.20" y="316.0" text-anchor="middle" class="tk">60</text>
<text x="274.60" y="316.0" text-anchor="middle" class="tk">70</text>
<text x="295.00" y="316.0" text-anchor="middle" class="tk">80</text>
<text x="315.40" y="316.0" text-anchor="middle" class="tk">90</text>
<text x="335.80" y="316.0" text-anchor="middle" class="tk">100</text>
<text x="356.20" y="316.0" text-anchor="middle" class="tk">110</text>
<text x="376.60" y="316.0" text-anchor="middle" class="tk">120</text>
<text x="397.00" y="316.0" text-anchor="middle" class="tk">130</text>
<text x="417.40" y="316.0" text-anchor="middle" class="tk">140</text>
<text x="252.6" y="307.85" text-anchor="end" class="tk">0</text>
<text x="252.6" y="281.10" text-anchor="end" class="tk">1</text>
<text x="252.6" y="254.35" text-anchor="end" class="tk">2</text>
<text x="252.6" y="227.60" text-anchor="end" class="tk">3</text>
<text x="252.6" y="200.85" text-anchor="end" class="tk">4</text>
<text x="252.6" y="174.10" text-anchor="end" class="tk">5</text>
<text x="341.3" y="326.2" text-anchor="middle" class="ttl">RBANS</text>
<text x="260.4" y="185.8" class="pl" letter-spacing="-0.55">(d)</text>
<circle cx="285.2" cy="177.3" r="2.65" fill="#d2956f" stroke="#ad7a5c" stroke-width="0.75"/>
<circle cx="295.4" cy="198.1" r="2.65" fill="#ecae82" stroke="#cc906c" stroke-width="0.75"/>
<circle cx="313.7" cy="198.1" r="2.65" fill="#be8664" stroke="#9c6e53" stroke-width="0.75"/>
<circle cx="326.3" cy="205.4" r="2.65" fill="#efbb8b" stroke="#dd9c75" stroke-width="0.75"/>
<circle cx="320.1" cy="210.7" r="2.65" fill="#eaa57b" stroke="#c08865" stroke-width="0.75"/>
<circle cx="340.0" cy="208.1" r="2.65" fill="#845d46" stroke="#6d4d39" stroke-width="0.75"/>
<circle cx="341.8" cy="216.8" r="2.65" fill="#b07d5d" stroke="#90664c" stroke-width="0.75"/>
<circle cx="336.1" cy="222.5" r="2.65" fill="#674936" stroke="#543b2c" stroke-width="0.75"/>
<circle cx="343.6" cy="231.7" r="2.65" fill="#d2956f" stroke="#ad7a5c" stroke-width="0.75"/>
<circle cx="293.4" cy="219.1" r="2.65" fill="#090605" stroke="#070504" stroke-width="0.75"/>
<circle cx="297.7" cy="220.7" r="2.65" fill="#be8664" stroke="#9c6e53" stroke-width="0.75"/>
<circle cx="279.0" cy="220.7" r="2.65" fill="#eeb788" stroke="#d89973" stroke-width="0.75"/>
<circle cx="305.7" cy="224.8" r="2.65" fill="#b07d5d" stroke="#90664c" stroke-width="0.75"/>
<circle cx="269.2" cy="226.6" r="2.65" fill="#92684d" stroke="#785540" stroke-width="0.75"/>
<circle cx="329.8" cy="243.0" r="2.65" fill="#674936" stroke="#543b2c" stroke-width="0.75"/>
<circle cx="283.2" cy="250.4" r="2.65" fill="#dc9b74" stroke="#b4805f" stroke-width="0.75"/>
<circle cx="281.0" cy="257.0" r="2.65" fill="#090605" stroke="#070504" stroke-width="0.75"/>
<circle cx="289.1" cy="264.4" r="2.65" fill="#090605" stroke="#070504" stroke-width="0.75"/>
<circle cx="309.4" cy="253.8" r="2.65" fill="#b07d5d" stroke="#90664c" stroke-width="0.75"/>
<circle cx="321.5" cy="259.5" r="2.65" fill="#845d46" stroke="#6d4d39" stroke-width="0.75"/>
<circle cx="333.9" cy="253.1" r="2.65" fill="#f0c08f" stroke="#e4a179" stroke-width="0.75"/>
<circle cx="339.9" cy="271.7" r="2.65" fill="#a17255" stroke="#845d46" stroke-width="0.75"/>
<circle cx="348.2" cy="223.7" r="2.65" fill="#b07d5d" stroke="#90664c" stroke-width="0.75"/>
<circle cx="358.3" cy="224.4" r="2.65" fill="#76533e" stroke="#604433" stroke-width="0.75"/>
<circle cx="382.5" cy="206.1" r="2.65" fill="#eaa57b" stroke="#c08865" stroke-width="0.75"/>
<circle cx="390.5" cy="226.6" r="2.65" fill="#eaa57b" stroke="#c08865" stroke-width="0.75"/>
<circle cx="348.2" cy="241.8" r="2.65" fill="#b07d5d" stroke="#90664c" stroke-width="0.75"/>
<circle cx="358.4" cy="242.5" r="2.65" fill="#674936" stroke="#543b2c" stroke-width="0.75"/>
<circle cx="374.5" cy="241.9" r="2.65" fill="#d2956f" stroke="#ad7a5c" stroke-width="0.75"/>
<circle cx="360.6" cy="248.2" r="2.65" fill="#845d46" stroke="#6d4d39" stroke-width="0.75"/>
<circle cx="380.9" cy="258.5" r="2.65" fill="#b07d5d" stroke="#90664c" stroke-width="0.75"/>
<circle cx="348.2" cy="261.0" r="2.65" fill="#674936" stroke="#543b2c" stroke-width="0.75"/>
<circle cx="364.4" cy="263.8" r="2.65" fill="#b07d5d" stroke="#90664c" stroke-width="0.75"/>
<circle cx="348.2" cy="283.0" r="2.65" fill="#090605" stroke="#070504" stroke-width="0.75"/>
<circle cx="352.5" cy="282.3" r="2.65" fill="#1d1510" stroke="#18110c" stroke-width="0.75"/>
<circle cx="380.9" cy="282.3" r="2.65" fill="#b07d5d" stroke="#90664c" stroke-width="0.75"/>
<circle cx="384.7" cy="278.3" r="2.65" fill="#090605" stroke="#070504" stroke-width="0.75"/>
<circle cx="368.5" cy="292.6" r="2.65" fill="#090605" stroke="#070504" stroke-width="0.75"/>
<circle cx="409.2" cy="276.2" r="2.65" fill="#a17255" stroke="#845d46" stroke-width="0.75"/>
<circle cx="413.5" cy="273.8" r="2.65" fill="#090605" stroke="#070504" stroke-width="0.75"/>
<line x1="269.2" y1="218.0" x2="413.5" y2="266.3" stroke="#4a4a4e" stroke-width="0.7"/>
<rect x="432.2" y="170.6" width="9.300000000000011" height="134.00000000000003" fill="url(#gcopper)" stroke="#3a3a3a" stroke-width="0.6"/>
<line x1="440.3" y1="304.60" x2="441.5" y2="304.60" stroke="#3a3a3a" stroke-width="0.5"/>
<text x="444.2" y="307.20" class="cbl">62</text>
<line x1="440.3" y1="291.20" x2="441.5" y2="291.20" stroke="#3a3a3a" stroke-width="0.5"/>
<text x="444.2" y="293.80" class="cbl">64</text>
<line x1="440.3" y1="277.80" x2="441.5" y2="277.80" stroke="#3a3a3a" stroke-width="0.5"/>
<text x="444.2" y="280.40" class="cbl">66</text>
<line x1="440.3" y1="264.40" x2="441.5" y2="264.40" stroke="#3a3a3a" stroke-width="0.5"/>
<text x="444.2" y="267.00" class="cbl">68</text>
<line x1="440.3" y1="251.00" x2="441.5" y2="251.00" stroke="#3a3a3a" stroke-width="0.5"/>
<text x="444.2" y="253.60" class="cbl">70</text>
<line x1="440.3" y1="237.60" x2="441.5" y2="237.60" stroke="#3a3a3a" stroke-width="0.5"/>
<text x="444.2" y="240.20" class="cbl">72</text>
<line x1="440.3" y1="224.20" x2="441.5" y2="224.20" stroke="#3a3a3a" stroke-width="0.5"/>
<text x="444.2" y="226.80" class="cbl">74</text>
<line x1="440.3" y1="210.80" x2="441.5" y2="210.80" stroke="#3a3a3a" stroke-width="0.5"/>
<text x="444.2" y="213.40" class="cbl">76</text>
<line x1="440.3" y1="197.40" x2="441.5" y2="197.40" stroke="#3a3a3a" stroke-width="0.5"/>
<text x="444.2" y="200.00" class="cbl">78</text>
<line x1="440.3" y1="184.00" x2="441.5" y2="184.00" stroke="#3a3a3a" stroke-width="0.5"/>
<text x="444.2" y="186.60" class="cbl">80</text>
<line x1="440.3" y1="170.60" x2="441.5" y2="170.60" stroke="#3a3a3a" stroke-width="0.5"/>
<text x="444.2" y="173.20" class="cbl">82</text>
<rect x="145.3" y="207.8" width="4" height="1.4" fill="#c6f0f0"/><rect x="145.3" y="217.6" width="4" height="1.4" fill="#c6f0f0"/>
<text transform="translate(10.2,77.9) rotate(-90)" text-anchor="middle" class="yl" textLength="46" lengthAdjust="spacingAndGlyphs">WM ΔR<tspan font-size="6.5" dy="2">1ρ</tspan><tspan dy="-2">F</tspan></text>
<text transform="translate(10.4,240.9) rotate(-90)" text-anchor="middle" class="yl" textLength="46" lengthAdjust="spacingAndGlyphs">WM ΔR<tspan font-size="6.5" dy="2">1ρ</tspan><tspan dy="-2">F</tspan></text>
<text transform="translate(247.5,74.0) rotate(-90)" text-anchor="middle" class="yl" style="font-size:9px" textLength="50" lengthAdjust="spacingAndGlyphs">WMHs (mL)</text>
<text transform="translate(245.9,237.9) rotate(-90)" text-anchor="middle" class="yl" style="font-size:7.8px" textLength="42" lengthAdjust="spacingAndGlyphs">WMHs (mL)</text><rect x="482.8" y="5.5" width="167" height="90.1" fill="#000"/>
<rect x="483.6" y="105" width="167.1" height="90.6" fill="#000"/>
<rect x="482.6" y="204.1" width="169.1" height="89.3" fill="#000"/>
<g filter="url(#soft)">
<ellipse cx="528" cy="51.6" rx="29.7" ry="37.1" fill="#161c1c" stroke="#4c5454" stroke-width="0.9"/>
<ellipse cx="529.2" cy="52.5" rx="26.7" ry="32.3" fill="#060606" stroke="#4a5252" stroke-width="0.8"/>
<radialGradient id="rga1" cx="0.5" cy="0.5" r="0.5"><stop offset="0" stop-color="#fbfbf2"/><stop offset="0.5" stop-color="#fbfbf2"/><stop offset="1" stop-color="#fbeeb0"/></radialGradient>
<clipPath id="cpa1"><path d="M555.00 52.30 L555.22 54.56 L555.30 56.67 L555.28 58.71 L555.13 60.69 L554.86 62.61 L554.47 64.48 L553.96 66.28 L553.32 68.01 L552.57 69.67 L551.70 71.25 L550.71 72.75 L549.61 74.15 L548.40 75.47 L547.09 76.69 L545.67 77.80 L544.16 78.81 L542.56 79.71 L540.88 80.49 L539.12 81.16 L537.29 81.71 L535.39 82.14 L533.43 82.45 L531.39 82.64 L529.20 82.70 L527.01 82.64 L524.97 82.45 L523.01 82.14 L521.11 81.71 L519.28 81.16 L517.52 80.49 L515.84 79.71 L514.24 78.81 L512.73 77.80 L511.31 76.69 L510.00 75.47 L508.79 74.15 L507.69 72.75 L506.70 71.25 L505.83 69.67 L505.08 68.01 L504.44 66.28 L503.93 64.48 L503.54 62.61 L503.27 60.69 L503.12 58.71 L503.10 56.67 L503.18 54.56 L503.40 52.30 L503.72 50.04 L504.13 47.93 L504.62 45.89 L505.20 43.91 L505.87 41.99 L506.62 40.12 L507.44 38.32 L508.33 36.59 L509.29 34.93 L510.31 33.35 L511.39 31.85 L512.52 30.45 L513.70 29.13 L514.92 27.91 L516.19 26.80 L517.49 25.79 L518.83 24.89 L520.21 24.11 L521.61 23.44 L523.04 22.89 L524.51 22.46 L526.00 22.15 L527.55 21.96 L529.20 21.90 L530.85 21.96 L532.40 22.15 L533.89 22.46 L535.36 22.89 L536.79 23.44 L538.19 24.11 L539.57 24.89 L540.91 25.79 L542.21 26.80 L543.48 27.91 L544.70 29.13 L545.88 30.45 L547.01 31.85 L548.09 33.35 L549.11 34.93 L550.07 36.59 L550.96 38.32 L551.78 40.12 L552.53 41.99 L553.20 43.91 L553.78 45.89 L554.27 47.93 L554.68 50.04Z"/></clipPath>
<g clip-path="url(#cpa1)">
<path d="M555.00 52.30 L555.22 54.56 L555.30 56.67 L555.28 58.71 L555.13 60.69 L554.86 62.61 L554.47 64.48 L553.96 66.28 L553.32 68.01 L552.57 69.67 L551.70 71.25 L550.71 72.75 L549.61 74.15 L548.40 75.47 L547.09 76.69 L545.67 77.80 L544.16 78.81 L542.56 79.71 L540.88 80.49 L539.12 81.16 L537.29 81.71 L535.39 82.14 L533.43 82.45 L531.39 82.64 L529.20 82.70 L527.01 82.64 L524.97 82.45 L523.01 82.14 L521.11 81.71 L519.28 81.16 L517.52 80.49 L515.84 79.71 L514.24 78.81 L512.73 77.80 L511.31 76.69 L510.00 75.47 L508.79 74.15 L507.69 72.75 L506.70 71.25 L505.83 69.67 L505.08 68.01 L504.44 66.28 L503.93 64.48 L503.54 62.61 L503.27 60.69 L503.12 58.71 L503.10 56.67 L503.18 54.56 L503.40 52.30 L503.72 50.04 L504.13 47.93 L504.62 45.89 L505.20 43.91 L505.87 41.99 L506.62 40.12 L507.44 38.32 L508.33 36.59 L509.29 34.93 L510.31 33.35 L511.39 31.85 L512.52 30.45 L513.70 29.13 L514.92 27.91 L516.19 26.80 L517.49 25.79 L518.83 24.89 L520.21 24.11 L521.61 23.44 L523.04 22.89 L524.51 22.46 L526.00 22.15 L527.55 21.96 L529.20 21.90 L530.85 21.96 L532.40 22.15 L533.89 22.46 L535.36 22.89 L536.79 23.44 L538.19 24.11 L539.57 24.89 L540.91 25.79 L542.21 26.80 L543.48 27.91 L544.70 29.13 L545.88 30.45 L547.01 31.85 L548.09 33.35 L549.11 34.93 L550.07 36.59 L550.96 38.32 L551.78 40.12 L552.53 41.99 L553.20 43.91 L553.78 45.89 L554.27 47.93 L554.68 50.04Z" fill="url(#rga1)"/>
<filter id="txa1" x="0" y="0" width="1" height="1" color-interpolation-filters="sRGB"><feTurbulence type="turbulence" baseFrequency="0.16" numOctaves="2" seed="4" result="n"/><feColorMatrix in="n" type="matrix" values="0 0 0 0 0.9  0 0 0 0 0.45  0 0 0 0 0.1  -9.0 0 0 0 1.05" result="c"/><feComposite in="c" in2="SourceGraphic" operator="in"/></filter>
<rect x="501.4" y="19.9" width="55.6" height="64.8" fill="#000" filter="url(#txa1)" opacity="0.3"/>
<path d="M555.49 52.10Q550.61 52.17 546.30 52.69M550.61 52.17L547.55 55.53M555.78 55.37Q554.61 56.08 553.55 51.55M555.45 62.32Q551.90 59.13 548.42 59.80M551.90 59.13L549.97 56.07M554.76 65.55Q551.42 62.78 548.37 61.06M551.42 62.78L550.58 60.10M553.21 69.68Q551.16 67.39 549.63 65.25M551.16 67.39L551.61 64.42M552.72 70.63Q550.79 69.97 550.74 66.95M550.84 73.57Q547.33 70.42 545.31 66.17M547.81 76.86Q545.47 76.36 547.46 72.80M545.67 78.54Q544.47 74.61 541.82 72.49M540.35 81.37Q537.40 78.71 540.59 74.29M535.98 82.65Q535.69 76.46 531.16 71.69M530.50 83.29Q528.88 81.44 531.18 80.13M528.88 81.44L534.45 80.56M524.56 83.01Q524.95 80.86 524.64 79.23M521.93 82.54Q523.61 79.66 525.09 77.33M516.07 80.50Q517.11 77.39 518.96 75.36M517.11 77.39L520.94 77.88M513.34 78.96Q514.45 77.16 515.09 75.78M509.92 76.23Q512.04 72.97 516.03 72.17M512.04 72.97L515.71 74.93M508.55 74.79Q509.82 73.23 509.14 70.05M509.82 73.23L513.81 75.29M506.01 71.23Q510.07 69.92 513.35 68.32M504.37 67.76Q505.93 66.87 506.49 64.81M505.93 66.87L507.43 68.51M503.26 64.01Q505.38 61.86 507.00 59.65M505.38 61.86L506.50 57.92M502.78 61.12Q507.42 59.12 511.71 58.73M502.95 51.75Q505.50 52.34 507.90 50.25M503.58 48.04Q504.35 50.31 505.54 47.61M504.46 44.61Q508.10 44.02 509.87 47.81M508.10 44.02L510.04 43.81M506.19 39.82Q507.63 40.61 507.97 42.75M507.63 40.61L509.33 38.34M508.38 35.44Q512.27 38.22 515.03 41.93M512.27 38.22L516.13 38.74M513.11 28.97Q515.35 29.63 516.50 30.65M515.35 29.63L517.45 29.20M515.34 26.79Q515.62 28.87 517.23 29.02M516.79 25.61Q518.97 29.30 519.88 33.24M518.97 29.30L520.86 29.39M519.01 24.11Q520.64 27.26 522.50 29.66M523.36 22.16Q522.73 26.38 524.58 29.08M525.15 21.69Q525.64 24.93 526.45 27.50M528.89 21.29Q530.25 27.00 529.93 32.06M530.25 27.00L530.73 31.22M531.22 21.38Q531.84 26.09 529.99 29.91M531.84 26.09L528.98 29.12M536.18 22.55Q535.33 24.69 533.31 25.86M535.33 24.69L537.44 26.92M537.27 23.00Q536.52 24.78 535.33 25.73M540.53 24.83Q539.28 28.13 538.81 31.28M543.70 27.37Q541.45 32.29 538.51 35.81M546.36 30.19Q543.69 33.93 542.07 38.18M547.88 32.14Q544.78 36.30 542.55 40.87M550.65 36.58Q548.55 37.04 547.71 38.72M548.55 37.04L546.43 35.45M551.61 38.48Q549.17 41.31 546.39 42.12M554.80 47.97Q551.91 47.50 549.90 48.63M551.91 47.50L550.97 53.58M529.17 22.81 L529.36 26.50 L529.37 30.18 L528.84 33.87 L528.71 37.56 L529.07 41.24 L528.97 44.93 L529.51 48.61 L529.39 52.30 L529.30 55.99 L529.26 59.67 L529.36 63.36 L528.85 67.04 L529.14 70.73 L528.86 74.42 L529.61 78.10 L528.76 81.79M528.84 33.87L527.19 34.43M529.51 48.61L532.37 49.51M529.36 63.36L527.82 62.04" fill="none" stroke="#f8d838" stroke-width="4.6" stroke-linecap="round" stroke-linejoin="round" opacity="0.65"/>
<path d="M555.00 52.30 L555.22 54.56 L555.30 56.67 L555.28 58.71 L555.13 60.69 L554.86 62.61 L554.47 64.48 L553.96 66.28 L553.32 68.01 L552.57 69.67 L551.70 71.25 L550.71 72.75 L549.61 74.15 L548.40 75.47 L547.09 76.69 L545.67 77.80 L544.16 78.81 L542.56 79.71 L540.88 80.49 L539.12 81.16 L537.29 81.71 L535.39 82.14 L533.43 82.45 L531.39 82.64 L529.20 82.70 L527.01 82.64 L524.97 82.45 L523.01 82.14 L521.11 81.71 L519.28 81.16 L517.52 80.49 L515.84 79.71 L514.24 78.81 L512.73 77.80 L511.31 76.69 L510.00 75.47 L508.79 74.15 L507.69 72.75 L506.70 71.25 L505.83 69.67 L505.08 68.01 L504.44 66.28 L503.93 64.48 L503.54 62.61 L503.27 60.69 L503.12 58.71 L503.10 56.67 L503.18 54.56 L503.40 52.30 L503.72 50.04 L504.13 47.93 L504.62 45.89 L505.20 43.91 L505.87 41.99 L506.62 40.12 L507.44 38.32 L508.33 36.59 L509.29 34.93 L510.31 33.35 L511.39 31.85 L512.52 30.45 L513.70 29.13 L514.92 27.91 L516.19 26.80 L517.49 25.79 L518.83 24.89 L520.21 24.11 L521.61 23.44 L523.04 22.89 L524.51 22.46 L526.00 22.15 L527.55 21.96 L529.20 21.90 L530.85 21.96 L532.40 22.15 L533.89 22.46 L535.36 22.89 L536.79 23.44 L538.19 24.11 L539.57 24.89 L540.91 25.79 L542.21 26.80 L543.48 27.91 L544.70 29.13 L545.88 30.45 L547.01 31.85 L548.09 33.35 L549.11 34.93 L550.07 36.59 L550.96 38.32 L551.78 40.12 L552.53 41.99 L553.20 43.91 L553.78 45.89 L554.27 47.93 L554.68 50.04Z" fill="none" stroke="#e86a28" stroke-width="1.2"/>
<path d="M555.49 52.10Q550.61 52.17 546.30 52.69M550.61 52.17L547.55 55.53M555.78 55.37Q554.61 56.08 553.55 51.55M555.45 62.32Q551.90 59.13 548.42 59.80M551.90 59.13L549.97 56.07M554.76 65.55Q551.42 62.78 548.37 61.06M551.42 62.78L550.58 60.10M553.21 69.68Q551.16 67.39 549.63 65.25M551.16 67.39L551.61 64.42M552.72 70.63Q550.79 69.97 550.74 66.95M550.84 73.57Q547.33 70.42 545.31 66.17M547.81 76.86Q545.47 76.36 547.46 72.80M545.67 78.54Q544.47 74.61 541.82 72.49M540.35 81.37Q537.40 78.71 540.59 74.29M535.98 82.65Q535.69 76.46 531.16 71.69M530.50 83.29Q528.88 81.44 531.18 80.13M528.88 81.44L534.45 80.56M524.56 83.01Q524.95 80.86 524.64 79.23M521.93 82.54Q523.61 79.66 525.09 77.33M516.07 80.50Q517.11 77.39 518.96 75.36M517.11 77.39L520.94 77.88M513.34 78.96Q514.45 77.16 515.09 75.78M509.92 76.23Q512.04 72.97 516.03 72.17M512.04 72.97L515.71 74.93M508.55 74.79Q509.82 73.23 509.14 70.05M509.82 73.23L513.81 75.29M506.01 71.23Q510.07 69.92 513.35 68.32M504.37 67.76Q505.93 66.87 506.49 64.81M505.93 66.87L507.43 68.51M503.26 64.01Q505.38 61.86 507.00 59.65M505.38 61.86L506.50 57.92M502.78 61.12Q507.42 59.12 511.71 58.73M502.95 51.75Q505.50 52.34 507.90 50.25M503.58 48.04Q504.35 50.31 505.54 47.61M504.46 44.61Q508.10 44.02 509.87 47.81M508.10 44.02L510.04 43.81M506.19 39.82Q507.63 40.61 507.97 42.75M507.63 40.61L509.33 38.34M508.38 35.44Q512.27 38.22 515.03 41.93M512.27 38.22L516.13 38.74M513.11 28.97Q515.35 29.63 516.50 30.65M515.35 29.63L517.45 29.20M515.34 26.79Q515.62 28.87 517.23 29.02M516.79 25.61Q518.97 29.30 519.88 33.24M518.97 29.30L520.86 29.39M519.01 24.11Q520.64 27.26 522.50 29.66M523.36 22.16Q522.73 26.38 524.58 29.08M525.15 21.69Q525.64 24.93 526.45 27.50M528.89 21.29Q530.25 27.00 529.93 32.06M530.25 27.00L530.73 31.22M531.22 21.38Q531.84 26.09 529.99 29.91M531.84 26.09L528.98 29.12M536.18 22.55Q535.33 24.69 533.31 25.86M535.33 24.69L537.44 26.92M537.27 23.00Q536.52 24.78 535.33 25.73M540.53 24.83Q539.28 28.13 538.81 31.28M543.70 27.37Q541.45 32.29 538.51 35.81M546.36 30.19Q543.69 33.93 542.07 38.18M547.88 32.14Q544.78 36.30 542.55 40.87M550.65 36.58Q548.55 37.04 547.71 38.72M548.55 37.04L546.43 35.45M551.61 38.48Q549.17 41.31 546.39 42.12M554.80 47.97Q551.91 47.50 549.90 48.63M551.91 47.50L550.97 53.58" fill="none" stroke="#e04818" stroke-width="1.4" stroke-linecap="round" stroke-linejoin="round"/>
<path d="M529.17 22.81 L529.36 26.50 L529.37 30.18 L528.84 33.87 L528.71 37.56 L529.07 41.24 L528.97 44.93 L529.51 48.61 L529.39 52.30 L529.30 55.99 L529.26 59.67 L529.36 63.36 L528.85 67.04 L529.14 70.73 L528.86 74.42 L529.61 78.10 L528.76 81.79M528.84 33.87L527.19 34.43M529.51 48.61L532.37 49.51M529.36 63.36L527.82 62.04" fill="none" stroke="#d8461a" stroke-width="1.6" stroke-linecap="round"/>
</g>
<ellipse cx="606.5" cy="50.6" rx="32.7" ry="38.1" fill="#161c1c" stroke="#4c5454" stroke-width="0.9"/>
<ellipse cx="606.2" cy="50.400000000000006" rx="29.0" ry="32.6" fill="#060606" stroke="#4a5252" stroke-width="0.8"/>
<radialGradient id="rga2" cx="0.5" cy="0.5" r="0.5"><stop offset="0" stop-color="#f2ee48"/><stop offset="0.5" stop-color="#f2ee48"/><stop offset="1" stop-color="#faf0b0"/></radialGradient>
<clipPath id="cpa2"><path d="M634.30 50.20 L634.54 52.49 L634.63 54.62 L634.60 56.67 L634.44 58.67 L634.15 60.62 L633.72 62.50 L633.16 64.32 L632.48 66.07 L631.66 67.74 L630.71 69.34 L629.63 70.85 L628.43 72.27 L627.12 73.60 L625.68 74.83 L624.14 75.95 L622.49 76.97 L620.75 77.88 L618.92 78.67 L617.00 79.35 L615.01 79.90 L612.94 80.34 L610.80 80.65 L608.59 80.84 L606.20 80.90 L603.81 80.84 L601.60 80.65 L599.46 80.34 L597.39 79.90 L595.40 79.35 L593.48 78.67 L591.65 77.88 L589.91 76.97 L588.26 75.95 L586.72 74.83 L585.28 73.60 L583.97 72.27 L582.77 70.85 L581.69 69.34 L580.74 67.74 L579.92 66.07 L579.24 64.32 L578.68 62.50 L578.25 60.62 L577.96 58.67 L577.80 56.67 L577.77 54.62 L577.86 52.49 L578.10 50.20 L578.45 47.91 L578.89 45.78 L579.43 43.73 L580.06 41.73 L580.79 39.78 L581.60 37.90 L582.50 36.08 L583.47 34.33 L584.51 32.66 L585.63 31.06 L586.80 29.55 L588.03 28.13 L589.32 26.80 L590.65 25.57 L592.03 24.45 L593.45 23.43 L594.91 22.52 L596.40 21.73 L597.93 21.05 L599.49 20.50 L601.09 20.06 L602.72 19.75 L604.40 19.56 L606.20 19.50 L608.00 19.56 L609.68 19.75 L611.31 20.06 L612.91 20.50 L614.47 21.05 L616.00 21.73 L617.49 22.52 L618.95 23.43 L620.37 24.45 L621.75 25.57 L623.08 26.80 L624.37 28.13 L625.60 29.55 L626.77 31.06 L627.89 32.66 L628.93 34.33 L629.90 36.08 L630.80 37.90 L631.61 39.78 L632.34 41.73 L632.97 43.73 L633.51 45.78 L633.95 47.91Z"/></clipPath>
<g clip-path="url(#cpa2)">
<path d="M634.30 50.20 L634.54 52.49 L634.63 54.62 L634.60 56.67 L634.44 58.67 L634.15 60.62 L633.72 62.50 L633.16 64.32 L632.48 66.07 L631.66 67.74 L630.71 69.34 L629.63 70.85 L628.43 72.27 L627.12 73.60 L625.68 74.83 L624.14 75.95 L622.49 76.97 L620.75 77.88 L618.92 78.67 L617.00 79.35 L615.01 79.90 L612.94 80.34 L610.80 80.65 L608.59 80.84 L606.20 80.90 L603.81 80.84 L601.60 80.65 L599.46 80.34 L597.39 79.90 L595.40 79.35 L593.48 78.67 L591.65 77.88 L589.91 76.97 L588.26 75.95 L586.72 74.83 L585.28 73.60 L583.97 72.27 L582.77 70.85 L581.69 69.34 L580.74 67.74 L579.92 66.07 L579.24 64.32 L578.68 62.50 L578.25 60.62 L577.96 58.67 L577.80 56.67 L577.77 54.62 L577.86 52.49 L578.10 50.20 L578.45 47.91 L578.89 45.78 L579.43 43.73 L580.06 41.73 L580.79 39.78 L581.60 37.90 L582.50 36.08 L583.47 34.33 L584.51 32.66 L585.63 31.06 L586.80 29.55 L588.03 28.13 L589.32 26.80 L590.65 25.57 L592.03 24.45 L593.45 23.43 L594.91 22.52 L596.40 21.73 L597.93 21.05 L599.49 20.50 L601.09 20.06 L602.72 19.75 L604.40 19.56 L606.20 19.50 L608.00 19.56 L609.68 19.75 L611.31 20.06 L612.91 20.50 L614.47 21.05 L616.00 21.73 L617.49 22.52 L618.95 23.43 L620.37 24.45 L621.75 25.57 L623.08 26.80 L624.37 28.13 L625.60 29.55 L626.77 31.06 L627.89 32.66 L628.93 34.33 L629.90 36.08 L630.80 37.90 L631.61 39.78 L632.34 41.73 L632.97 43.73 L633.51 45.78 L633.95 47.91Z" fill="url(#rga2)"/>
<ellipse cx="606" cy="50" rx="10" ry="26" fill="#f0ea3a" opacity="0.75" filter="url(#blur3)"/><ellipse cx="590" cy="54" rx="6" ry="17" fill="#fdfbea" opacity="0.85" filter="url(#blur3)"/><ellipse cx="622" cy="54" rx="6" ry="17" fill="#fdfbea" opacity="0.85" filter="url(#blur3)"/>
<filter id="txa2" x="0" y="0" width="1" height="1" color-interpolation-filters="sRGB"><feTurbulence type="turbulence" baseFrequency="0.16" numOctaves="2" seed="6" result="n"/><feColorMatrix in="n" type="matrix" values="0 0 0 0 0.88  0 0 0 0 0.4  0 0 0 0 0.08  -9.0 0 0 0 1.05" result="c"/><feComposite in="c" in2="SourceGraphic" operator="in"/></filter>
<rect x="576.1" y="17.5" width="60.2" height="65.4" fill="#000" filter="url(#txa2)" opacity="0.3"/>
<path d="M634.85 50.09Q630.41 48.04 627.06 49.32M630.41 48.04L628.80 54.10M635.20 54.90Q632.91 53.10 631.19 56.94M632.91 53.10L631.69 51.78M635.06 58.32Q630.37 55.36 625.72 57.85M634.57 61.50Q629.53 59.21 625.23 55.92M629.53 59.21L626.19 54.22M632.93 66.54Q630.81 65.98 629.82 64.42M631.13 69.82Q628.78 69.35 628.92 66.24M628.10 73.52Q626.38 70.79 624.74 68.86M625.42 75.82Q625.61 73.06 625.63 71.13M624.06 76.76Q623.56 74.08 623.73 71.60M623.56 74.08L619.64 75.44M615.32 80.46Q612.59 78.00 613.89 75.29M612.06 81.11Q610.40 77.99 608.21 75.48M610.40 77.99L606.00 76.18M607.49 81.50Q609.01 77.57 608.12 74.39M602.74 81.38Q604.23 76.10 606.11 71.40M597.21 80.50Q598.36 77.40 597.45 74.39M598.36 77.40L601.69 75.70M593.18 79.22Q595.87 75.19 598.06 71.62M589.05 77.19Q592.79 73.01 594.88 68.61M586.18 75.20Q587.40 72.13 590.09 71.10M582.72 71.79Q586.14 69.28 587.75 65.50M582.04 70.92Q583.55 67.72 584.96 65.34M579.06 65.57Q581.27 65.13 581.56 61.11M578.10 62.62Q580.01 60.93 581.92 61.64M580.01 60.93L580.00 58.38M577.46 59.38Q581.98 59.15 585.46 55.85M577.20 54.92Q579.68 54.58 581.71 57.07M577.51 50.38Q579.88 48.19 580.92 51.38M578.50 45.06Q582.38 44.13 584.63 47.25M579.42 41.92Q583.77 42.11 586.15 46.69M580.98 37.94Q584.92 40.10 587.64 43.85M584.92 40.10L588.74 38.73M582.73 34.52Q584.50 37.41 586.40 38.97M588.30 27.02Q591.23 31.42 595.55 33.66M589.95 25.43Q591.54 27.15 593.48 27.86M591.54 27.15L594.12 26.78M593.18 22.91Q596.06 26.86 598.43 30.47M596.06 26.86L598.18 26.86M597.04 20.78Q599.20 25.31 599.09 30.18M599.20 25.31L602.14 26.01M605.20 18.90Q604.36 23.66 604.03 27.80M604.36 23.66L602.39 25.07M610.25 19.22Q610.25 22.90 610.82 26.11M613.39 20.02Q612.13 24.15 611.59 27.88M615.64 20.90Q615.56 23.25 616.74 25.65M619.03 22.78Q619.01 25.59 615.52 25.47M619.01 25.59L614.99 24.73M622.80 25.74Q621.93 27.44 622.87 30.19M625.04 28.03Q621.78 32.31 619.40 36.80M627.11 30.58Q626.10 33.11 623.74 32.82M631.69 38.56Q626.42 39.46 622.75 42.57M626.42 39.46L626.20 43.24M632.84 41.50Q630.17 41.68 628.21 42.20M634.42 47.39Q632.09 47.78 630.06 46.87M632.09 47.78L631.48 51.08M605.96 20.42 L606.39 24.14 L606.38 27.87 L606.55 31.59 L605.89 35.31 L605.93 39.03 L605.85 42.76 L605.93 46.48 L606.43 50.20 L605.83 53.92 L606.23 57.64 L605.91 61.37 L605.99 65.09 L606.13 68.81 L606.54 72.53 L606.31 76.26 L605.71 79.98M606.55 31.59L609.72 30.34M605.93 46.48L609.08 47.21M605.91 61.37L602.83 60.64" fill="none" stroke="#f4dc38" stroke-width="4.6" stroke-linecap="round" stroke-linejoin="round" opacity="0.65"/>
<path d="M634.30 50.20 L634.54 52.49 L634.63 54.62 L634.60 56.67 L634.44 58.67 L634.15 60.62 L633.72 62.50 L633.16 64.32 L632.48 66.07 L631.66 67.74 L630.71 69.34 L629.63 70.85 L628.43 72.27 L627.12 73.60 L625.68 74.83 L624.14 75.95 L622.49 76.97 L620.75 77.88 L618.92 78.67 L617.00 79.35 L615.01 79.90 L612.94 80.34 L610.80 80.65 L608.59 80.84 L606.20 80.90 L603.81 80.84 L601.60 80.65 L599.46 80.34 L597.39 79.90 L595.40 79.35 L593.48 78.67 L591.65 77.88 L589.91 76.97 L588.26 75.95 L586.72 74.83 L585.28 73.60 L583.97 72.27 L582.77 70.85 L581.69 69.34 L580.74 67.74 L579.92 66.07 L579.24 64.32 L578.68 62.50 L578.25 60.62 L577.96 58.67 L577.80 56.67 L577.77 54.62 L577.86 52.49 L578.10 50.20 L578.45 47.91 L578.89 45.78 L579.43 43.73 L580.06 41.73 L580.79 39.78 L581.60 37.90 L582.50 36.08 L583.47 34.33 L584.51 32.66 L585.63 31.06 L586.80 29.55 L588.03 28.13 L589.32 26.80 L590.65 25.57 L592.03 24.45 L593.45 23.43 L594.91 22.52 L596.40 21.73 L597.93 21.05 L599.49 20.50 L601.09 20.06 L602.72 19.75 L604.40 19.56 L606.20 19.50 L608.00 19.56 L609.68 19.75 L611.31 20.06 L612.91 20.50 L614.47 21.05 L616.00 21.73 L617.49 22.52 L618.95 23.43 L620.37 24.45 L621.75 25.57 L623.08 26.80 L624.37 28.13 L625.60 29.55 L626.77 31.06 L627.89 32.66 L628.93 34.33 L629.90 36.08 L630.80 37.90 L631.61 39.78 L632.34 41.73 L632.97 43.73 L633.51 45.78 L633.95 47.91Z" fill="none" stroke="#e06020" stroke-width="1.3"/>
<path d="M634.85 50.09Q630.41 48.04 627.06 49.32M630.41 48.04L628.80 54.10M635.20 54.90Q632.91 53.10 631.19 56.94M632.91 53.10L631.69 51.78M635.06 58.32Q630.37 55.36 625.72 57.85M634.57 61.50Q629.53 59.21 625.23 55.92M629.53 59.21L626.19 54.22M632.93 66.54Q630.81 65.98 629.82 64.42M631.13 69.82Q628.78 69.35 628.92 66.24M628.10 73.52Q626.38 70.79 624.74 68.86M625.42 75.82Q625.61 73.06 625.63 71.13M624.06 76.76Q623.56 74.08 623.73 71.60M623.56 74.08L619.64 75.44M615.32 80.46Q612.59 78.00 613.89 75.29M612.06 81.11Q610.40 77.99 608.21 75.48M610.40 77.99L606.00 76.18M607.49 81.50Q609.01 77.57 608.12 74.39M602.74 81.38Q604.23 76.10 606.11 71.40M597.21 80.50Q598.36 77.40 597.45 74.39M598.36 77.40L601.69 75.70M593.18 79.22Q595.87 75.19 598.06 71.62M589.05 77.19Q592.79 73.01 594.88 68.61M586.18 75.20Q587.40 72.13 590.09 71.10M582.72 71.79Q586.14 69.28 587.75 65.50M582.04 70.92Q583.55 67.72 584.96 65.34M579.06 65.57Q581.27 65.13 581.56 61.11M578.10 62.62Q580.01 60.93 581.92 61.64M580.01 60.93L580.00 58.38M577.46 59.38Q581.98 59.15 585.46 55.85M577.20 54.92Q579.68 54.58 581.71 57.07M577.51 50.38Q579.88 48.19 580.92 51.38M578.50 45.06Q582.38 44.13 584.63 47.25M579.42 41.92Q583.77 42.11 586.15 46.69M580.98 37.94Q584.92 40.10 587.64 43.85M584.92 40.10L588.74 38.73M582.73 34.52Q584.50 37.41 586.40 38.97M588.30 27.02Q591.23 31.42 595.55 33.66M589.95 25.43Q591.54 27.15 593.48 27.86M591.54 27.15L594.12 26.78M593.18 22.91Q596.06 26.86 598.43 30.47M596.06 26.86L598.18 26.86M597.04 20.78Q599.20 25.31 599.09 30.18M599.20 25.31L602.14 26.01M605.20 18.90Q604.36 23.66 604.03 27.80M604.36 23.66L602.39 25.07M610.25 19.22Q610.25 22.90 610.82 26.11M613.39 20.02Q612.13 24.15 611.59 27.88M615.64 20.90Q615.56 23.25 616.74 25.65M619.03 22.78Q619.01 25.59 615.52 25.47M619.01 25.59L614.99 24.73M622.80 25.74Q621.93 27.44 622.87 30.19M625.04 28.03Q621.78 32.31 619.40 36.80M627.11 30.58Q626.10 33.11 623.74 32.82M631.69 38.56Q626.42 39.46 622.75 42.57M626.42 39.46L626.20 43.24M632.84 41.50Q630.17 41.68 628.21 42.20M634.42 47.39Q632.09 47.78 630.06 46.87M632.09 47.78L631.48 51.08" fill="none" stroke="#d8401a" stroke-width="1.4" stroke-linecap="round" stroke-linejoin="round"/>
<path d="M605.96 20.42 L606.39 24.14 L606.38 27.87 L606.55 31.59 L605.89 35.31 L605.93 39.03 L605.85 42.76 L605.93 46.48 L606.43 50.20 L605.83 53.92 L606.23 57.64 L605.91 61.37 L605.99 65.09 L606.13 68.81 L606.54 72.53 L606.31 76.26 L605.71 79.98M606.55 31.59L609.72 30.34M605.93 46.48L609.08 47.21M605.91 61.37L602.83 60.64" fill="none" stroke="#d0401a" stroke-width="1.6" stroke-linecap="round"/>
</g>
<ellipse cx="527" cy="151.2" rx="30.2" ry="37.7" fill="#161c1c" stroke="#4c5454" stroke-width="0.9"/>
<ellipse cx="527.0" cy="151.7" rx="26.4" ry="32.4" fill="#060606" stroke="#4a5252" stroke-width="0.8"/>
<radialGradient id="rgb1" cx="0.5" cy="0.5" r="0.5"><stop offset="0" stop-color="#eae830"/><stop offset="0.5" stop-color="#eae830"/><stop offset="1" stop-color="#e8e22a"/></radialGradient>
<clipPath id="cpb1"><path d="M552.50 151.50 L552.71 153.77 L552.80 155.89 L552.77 157.93 L552.63 159.92 L552.36 161.85 L551.97 163.72 L551.47 165.52 L550.84 167.26 L550.10 168.93 L549.24 170.51 L548.26 172.01 L547.18 173.43 L545.98 174.74 L544.68 175.97 L543.28 177.08 L541.79 178.10 L540.20 179.00 L538.54 179.78 L536.80 180.46 L534.99 181.01 L533.12 181.44 L531.18 181.75 L529.16 181.94 L527.00 182.00 L524.84 181.94 L522.82 181.75 L520.88 181.44 L519.01 181.01 L517.20 180.46 L515.46 179.78 L513.80 179.00 L512.21 178.10 L510.72 177.08 L509.32 175.97 L508.02 174.74 L506.82 173.43 L505.74 172.01 L504.76 170.51 L503.90 168.93 L503.16 167.26 L502.53 165.52 L502.03 163.72 L501.64 161.85 L501.37 159.92 L501.23 157.93 L501.20 155.89 L501.29 153.77 L501.50 151.50 L501.82 149.23 L502.22 147.11 L502.71 145.07 L503.28 143.08 L503.94 141.15 L504.68 139.28 L505.49 137.48 L506.37 135.74 L507.32 134.07 L508.33 132.49 L509.40 130.99 L510.51 129.57 L511.68 128.26 L512.89 127.03 L514.14 125.92 L515.43 124.90 L516.75 124.00 L518.11 123.22 L519.50 122.54 L520.91 121.99 L522.36 121.56 L523.84 121.25 L525.37 121.06 L527.00 121.00 L528.63 121.06 L530.16 121.25 L531.64 121.56 L533.09 121.99 L534.50 122.54 L535.89 123.22 L537.25 124.00 L538.57 124.90 L539.86 125.92 L541.11 127.03 L542.32 128.26 L543.49 129.57 L544.60 130.99 L545.67 132.49 L546.68 134.07 L547.63 135.74 L548.51 137.48 L549.32 139.28 L550.06 141.15 L550.72 143.08 L551.29 145.07 L551.78 147.11 L552.18 149.23Z"/></clipPath>
<g clip-path="url(#cpb1)">
<path d="M552.50 151.50 L552.71 153.77 L552.80 155.89 L552.77 157.93 L552.63 159.92 L552.36 161.85 L551.97 163.72 L551.47 165.52 L550.84 167.26 L550.10 168.93 L549.24 170.51 L548.26 172.01 L547.18 173.43 L545.98 174.74 L544.68 175.97 L543.28 177.08 L541.79 178.10 L540.20 179.00 L538.54 179.78 L536.80 180.46 L534.99 181.01 L533.12 181.44 L531.18 181.75 L529.16 181.94 L527.00 182.00 L524.84 181.94 L522.82 181.75 L520.88 181.44 L519.01 181.01 L517.20 180.46 L515.46 179.78 L513.80 179.00 L512.21 178.10 L510.72 177.08 L509.32 175.97 L508.02 174.74 L506.82 173.43 L505.74 172.01 L504.76 170.51 L503.90 168.93 L503.16 167.26 L502.53 165.52 L502.03 163.72 L501.64 161.85 L501.37 159.92 L501.23 157.93 L501.20 155.89 L501.29 153.77 L501.50 151.50 L501.82 149.23 L502.22 147.11 L502.71 145.07 L503.28 143.08 L503.94 141.15 L504.68 139.28 L505.49 137.48 L506.37 135.74 L507.32 134.07 L508.33 132.49 L509.40 130.99 L510.51 129.57 L511.68 128.26 L512.89 127.03 L514.14 125.92 L515.43 124.90 L516.75 124.00 L518.11 123.22 L519.50 122.54 L520.91 121.99 L522.36 121.56 L523.84 121.25 L525.37 121.06 L527.00 121.00 L528.63 121.06 L530.16 121.25 L531.64 121.56 L533.09 121.99 L534.50 122.54 L535.89 123.22 L537.25 124.00 L538.57 124.90 L539.86 125.92 L541.11 127.03 L542.32 128.26 L543.49 129.57 L544.60 130.99 L545.67 132.49 L546.68 134.07 L547.63 135.74 L548.51 137.48 L549.32 139.28 L550.06 141.15 L550.72 143.08 L551.29 145.07 L551.78 147.11 L552.18 149.23Z" fill="url(#rgb1)"/>
<filter id="txb1" x="0" y="0" width="1" height="1" color-interpolation-filters="sRGB"><feTurbulence type="turbulence" baseFrequency="0.15" numOctaves="2" seed="8" result="n"/><feColorMatrix in="n" type="matrix" values="0 0 0 0 0.7  0 0 0 0 0.16  0 0 0 0 0.04  -7.0 0 0 0 1.05" result="c"/><feComposite in="c" in2="SourceGraphic" operator="in"/></filter>
<rect x="499.5" y="119.0" width="55.0" height="65.0" fill="#000" filter="url(#txb1)" opacity="0.55"/>
<path d="M552.85 150.27Q549.63 149.22 547.52 152.54M553.32 155.85Q551.34 154.98 549.92 155.86M551.34 154.98L549.90 150.05M553.19 159.57Q549.75 158.29 546.43 160.08M552.45 164.07Q548.41 163.00 545.70 158.46M551.99 165.70Q549.14 162.69 545.82 163.18M548.63 172.51Q544.77 170.85 541.94 168.76M546.64 174.92Q544.86 171.96 543.95 168.83M543.55 177.64Q541.88 174.91 541.46 171.97M540.87 179.33Q539.96 174.29 536.42 171.48M536.43 181.22Q534.41 176.80 533.09 172.79M533.51 181.99Q533.69 177.17 529.47 173.82M533.69 177.17L529.23 175.14M528.55 182.58Q526.30 177.86 525.42 173.69M523.66 182.46Q522.48 179.51 526.39 177.64M522.48 179.51L519.96 177.79M518.05 181.37Q520.46 178.97 520.48 176.58M512.77 179.14Q512.82 175.50 515.24 174.04M512.05 178.71Q512.08 175.79 513.64 174.60M512.08 175.79L511.51 174.02M508.67 176.19Q508.39 173.79 512.47 176.01M505.63 172.86Q508.22 170.73 508.67 166.44M501.46 163.66Q505.43 163.20 508.19 160.24M505.43 163.20L506.53 157.03M500.94 160.74Q502.00 159.28 502.70 159.38M501.20 149.94Q504.91 149.89 508.40 148.27M504.91 149.89L506.88 146.14M501.46 148.33Q503.96 147.34 505.43 148.89M504.16 139.21Q506.74 140.05 509.12 140.13M506.74 140.05L509.48 136.81M505.41 136.48Q505.98 138.94 508.57 136.20M507.46 132.87Q508.34 134.02 509.13 134.32M508.34 134.02L509.93 132.00M511.49 127.67Q513.64 129.15 513.69 132.02M513.64 129.15L511.77 133.97M513.53 125.71Q515.37 126.44 516.10 127.37M517.48 122.90Q519.30 126.69 519.05 131.01M519.38 121.95Q521.38 123.74 518.25 127.17M521.38 123.74L523.61 124.46M521.51 121.17Q521.74 124.47 523.64 126.69M526.63 120.39Q526.25 123.38 527.14 125.74M526.25 123.38L523.03 124.83M528.00 120.41Q526.89 122.43 528.40 123.91M526.89 122.43L530.00 123.35M531.33 120.86Q531.27 124.68 530.88 127.79M531.27 124.68L528.91 126.67M535.32 122.27Q533.55 123.18 535.14 124.94M541.73 126.87Q538.74 129.66 538.68 134.55M545.96 131.98Q544.50 135.02 543.25 137.48M551.65 144.48Q547.93 143.75 546.13 148.00M552.40 147.59Q548.77 147.22 545.84 147.72M548.77 147.22L547.05 143.80M527.46 121.91 L526.64 125.61 L526.52 129.31 L527.50 133.01 L526.68 136.71 L526.62 140.41 L527.15 144.10 L526.85 147.80 L527.39 151.50 L526.73 155.20 L527.46 158.90 L526.82 162.59 L527.10 166.29 L527.43 169.99 L527.19 173.69 L527.42 177.39 L527.21 181.09M527.50 133.01L524.84 131.57M526.85 147.80L528.97 146.87M526.82 162.59L524.15 163.91" fill="none" stroke="#f0a020" stroke-width="4.6" stroke-linecap="round" stroke-linejoin="round" opacity="0.5"/>
<path d="M552.50 151.50 L552.71 153.77 L552.80 155.89 L552.77 157.93 L552.63 159.92 L552.36 161.85 L551.97 163.72 L551.47 165.52 L550.84 167.26 L550.10 168.93 L549.24 170.51 L548.26 172.01 L547.18 173.43 L545.98 174.74 L544.68 175.97 L543.28 177.08 L541.79 178.10 L540.20 179.00 L538.54 179.78 L536.80 180.46 L534.99 181.01 L533.12 181.44 L531.18 181.75 L529.16 181.94 L527.00 182.00 L524.84 181.94 L522.82 181.75 L520.88 181.44 L519.01 181.01 L517.20 180.46 L515.46 179.78 L513.80 179.00 L512.21 178.10 L510.72 177.08 L509.32 175.97 L508.02 174.74 L506.82 173.43 L505.74 172.01 L504.76 170.51 L503.90 168.93 L503.16 167.26 L502.53 165.52 L502.03 163.72 L501.64 161.85 L501.37 159.92 L501.23 157.93 L501.20 155.89 L501.29 153.77 L501.50 151.50 L501.82 149.23 L502.22 147.11 L502.71 145.07 L503.28 143.08 L503.94 141.15 L504.68 139.28 L505.49 137.48 L506.37 135.74 L507.32 134.07 L508.33 132.49 L509.40 130.99 L510.51 129.57 L511.68 128.26 L512.89 127.03 L514.14 125.92 L515.43 124.90 L516.75 124.00 L518.11 123.22 L519.50 122.54 L520.91 121.99 L522.36 121.56 L523.84 121.25 L525.37 121.06 L527.00 121.00 L528.63 121.06 L530.16 121.25 L531.64 121.56 L533.09 121.99 L534.50 122.54 L535.89 123.22 L537.25 124.00 L538.57 124.90 L539.86 125.92 L541.11 127.03 L542.32 128.26 L543.49 129.57 L544.60 130.99 L545.67 132.49 L546.68 134.07 L547.63 135.74 L548.51 137.48 L549.32 139.28 L550.06 141.15 L550.72 143.08 L551.29 145.07 L551.78 147.11 L552.18 149.23Z" fill="none" stroke="#b0300c" stroke-width="2.2"/>
<path d="M552.85 150.27Q549.63 149.22 547.52 152.54M553.32 155.85Q551.34 154.98 549.92 155.86M551.34 154.98L549.90 150.05M553.19 159.57Q549.75 158.29 546.43 160.08M552.45 164.07Q548.41 163.00 545.70 158.46M551.99 165.70Q549.14 162.69 545.82 163.18M548.63 172.51Q544.77 170.85 541.94 168.76M546.64 174.92Q544.86 171.96 543.95 168.83M543.55 177.64Q541.88 174.91 541.46 171.97M540.87 179.33Q539.96 174.29 536.42 171.48M536.43 181.22Q534.41 176.80 533.09 172.79M533.51 181.99Q533.69 177.17 529.47 173.82M533.69 177.17L529.23 175.14M528.55 182.58Q526.30 177.86 525.42 173.69M523.66 182.46Q522.48 179.51 526.39 177.64M522.48 179.51L519.96 177.79M518.05 181.37Q520.46 178.97 520.48 176.58M512.77 179.14Q512.82 175.50 515.24 174.04M512.05 178.71Q512.08 175.79 513.64 174.60M512.08 175.79L511.51 174.02M508.67 176.19Q508.39 173.79 512.47 176.01M505.63 172.86Q508.22 170.73 508.67 166.44M501.46 163.66Q505.43 163.20 508.19 160.24M505.43 163.20L506.53 157.03M500.94 160.74Q502.00 159.28 502.70 159.38M501.20 149.94Q504.91 149.89 508.40 148.27M504.91 149.89L506.88 146.14M501.46 148.33Q503.96 147.34 505.43 148.89M504.16 139.21Q506.74 140.05 509.12 140.13M506.74 140.05L509.48 136.81M505.41 136.48Q505.98 138.94 508.57 136.20M507.46 132.87Q508.34 134.02 509.13 134.32M508.34 134.02L509.93 132.00M511.49 127.67Q513.64 129.15 513.69 132.02M513.64 129.15L511.77 133.97M513.53 125.71Q515.37 126.44 516.10 127.37M517.48 122.90Q519.30 126.69 519.05 131.01M519.38 121.95Q521.38 123.74 518.25 127.17M521.38 123.74L523.61 124.46M521.51 121.17Q521.74 124.47 523.64 126.69M526.63 120.39Q526.25 123.38 527.14 125.74M526.25 123.38L523.03 124.83M528.00 120.41Q526.89 122.43 528.40 123.91M526.89 122.43L530.00 123.35M531.33 120.86Q531.27 124.68 530.88 127.79M531.27 124.68L528.91 126.67M535.32 122.27Q533.55 123.18 535.14 124.94M541.73 126.87Q538.74 129.66 538.68 134.55M545.96 131.98Q544.50 135.02 543.25 137.48M551.65 144.48Q547.93 143.75 546.13 148.00M552.40 147.59Q548.77 147.22 545.84 147.72M548.77 147.22L547.05 143.80" fill="none" stroke="#c0300e" stroke-width="1.7" stroke-linecap="round" stroke-linejoin="round"/>
<path d="M527.46 121.91 L526.64 125.61 L526.52 129.31 L527.50 133.01 L526.68 136.71 L526.62 140.41 L527.15 144.10 L526.85 147.80 L527.39 151.50 L526.73 155.20 L527.46 158.90 L526.82 162.59 L527.10 166.29 L527.43 169.99 L527.19 173.69 L527.42 177.39 L527.21 181.09M527.50 133.01L524.84 131.57M526.85 147.80L528.97 146.87M526.82 162.59L524.15 163.91" fill="none" stroke="#b02a0a" stroke-width="2.2" stroke-linecap="round"/>
</g>
<ellipse cx="607" cy="150.2" rx="31.599999999999998" ry="38.5" fill="#161c1c" stroke="#4c5454" stroke-width="0.9"/>
<ellipse cx="606.5" cy="150.39999999999998" rx="28.099999999999998" ry="32.6" fill="#060606" stroke="#4a5252" stroke-width="0.8"/>
<radialGradient id="rgb2" cx="0.5" cy="0.5" r="0.5"><stop offset="0" stop-color="#e6ea44"/><stop offset="0.5" stop-color="#e6ea44"/><stop offset="1" stop-color="#ebe22c"/></radialGradient>
<clipPath id="cpb2"><path d="M633.70 150.20 L633.93 152.49 L634.02 154.62 L633.99 156.67 L633.83 158.67 L633.55 160.62 L633.14 162.50 L632.60 164.32 L631.93 166.07 L631.14 167.74 L630.22 169.34 L629.18 170.85 L628.02 172.27 L626.75 173.60 L625.36 174.83 L623.87 175.95 L622.27 176.97 L620.59 177.88 L618.81 178.67 L616.96 179.35 L615.02 179.90 L613.02 180.34 L610.95 180.65 L608.81 180.84 L606.50 180.90 L604.19 180.84 L602.05 180.65 L599.98 180.34 L597.98 179.90 L596.04 179.35 L594.19 178.67 L592.41 177.88 L590.73 176.97 L589.13 175.95 L587.64 174.83 L586.25 173.60 L584.98 172.27 L583.82 170.85 L582.78 169.34 L581.86 167.74 L581.07 166.07 L580.40 164.32 L579.86 162.50 L579.45 160.62 L579.17 158.67 L579.01 156.67 L578.98 154.62 L579.07 152.49 L579.30 150.20 L579.64 147.91 L580.06 145.78 L580.59 143.73 L581.20 141.73 L581.90 139.78 L582.69 137.90 L583.56 136.08 L584.50 134.33 L585.51 132.66 L586.59 131.06 L587.72 129.55 L588.91 128.13 L590.16 126.80 L591.45 125.57 L592.78 124.45 L594.16 123.43 L595.57 122.52 L597.02 121.73 L598.50 121.05 L600.01 120.50 L601.55 120.06 L603.13 119.75 L604.76 119.56 L606.50 119.50 L608.24 119.56 L609.87 119.75 L611.45 120.06 L612.99 120.50 L614.50 121.05 L615.98 121.73 L617.43 122.52 L618.84 123.43 L620.22 124.45 L621.55 125.57 L622.84 126.80 L624.09 128.13 L625.28 129.55 L626.41 131.06 L627.49 132.66 L628.50 134.33 L629.44 136.08 L630.31 137.90 L631.10 139.78 L631.80 141.73 L632.41 143.73 L632.94 145.78 L633.36 147.91Z"/></clipPath>
<g clip-path="url(#cpb2)">
<path d="M633.70 150.20 L633.93 152.49 L634.02 154.62 L633.99 156.67 L633.83 158.67 L633.55 160.62 L633.14 162.50 L632.60 164.32 L631.93 166.07 L631.14 167.74 L630.22 169.34 L629.18 170.85 L628.02 172.27 L626.75 173.60 L625.36 174.83 L623.87 175.95 L622.27 176.97 L620.59 177.88 L618.81 178.67 L616.96 179.35 L615.02 179.90 L613.02 180.34 L610.95 180.65 L608.81 180.84 L606.50 180.90 L604.19 180.84 L602.05 180.65 L599.98 180.34 L597.98 179.90 L596.04 179.35 L594.19 178.67 L592.41 177.88 L590.73 176.97 L589.13 175.95 L587.64 174.83 L586.25 173.60 L584.98 172.27 L583.82 170.85 L582.78 169.34 L581.86 167.74 L581.07 166.07 L580.40 164.32 L579.86 162.50 L579.45 160.62 L579.17 158.67 L579.01 156.67 L578.98 154.62 L579.07 152.49 L579.30 150.20 L579.64 147.91 L580.06 145.78 L580.59 143.73 L581.20 141.73 L581.90 139.78 L582.69 137.90 L583.56 136.08 L584.50 134.33 L585.51 132.66 L586.59 131.06 L587.72 129.55 L588.91 128.13 L590.16 126.80 L591.45 125.57 L592.78 124.45 L594.16 123.43 L595.57 122.52 L597.02 121.73 L598.50 121.05 L600.01 120.50 L601.55 120.06 L603.13 119.75 L604.76 119.56 L606.50 119.50 L608.24 119.56 L609.87 119.75 L611.45 120.06 L612.99 120.50 L614.50 121.05 L615.98 121.73 L617.43 122.52 L618.84 123.43 L620.22 124.45 L621.55 125.57 L622.84 126.80 L624.09 128.13 L625.28 129.55 L626.41 131.06 L627.49 132.66 L628.50 134.33 L629.44 136.08 L630.31 137.90 L631.10 139.78 L631.80 141.73 L632.41 143.73 L632.94 145.78 L633.36 147.91Z" fill="url(#rgb2)"/>
<ellipse cx="598" cy="147" rx="4" ry="13" fill="#eef0a0" opacity="0.8" filter="url(#blur3)"/><ellipse cx="616" cy="147" rx="4" ry="13" fill="#eef0a0" opacity="0.8" filter="url(#blur3)"/>
<filter id="txb2" x="0" y="0" width="1" height="1" color-interpolation-filters="sRGB"><feTurbulence type="turbulence" baseFrequency="0.15" numOctaves="2" seed="9" result="n"/><feColorMatrix in="n" type="matrix" values="0 0 0 0 0.72  0 0 0 0 0.18  0 0 0 0 0.04  -7.0 0 0 0 1.05" result="c"/><feComposite in="c" in2="SourceGraphic" operator="in"/></filter>
<rect x="577.3" y="117.5" width="58.4" height="65.4" fill="#000" filter="url(#txb2)" opacity="0.55"/>
<path d="M634.42 151.87Q633.27 150.28 632.60 148.65M634.56 154.02Q633.24 153.05 632.56 154.49M634.35 159.09Q630.84 159.46 628.23 157.67M630.84 159.46L630.47 155.18M633.76 162.38Q631.86 159.71 630.03 159.56M631.86 159.71L631.48 156.31M632.36 166.58Q628.94 165.79 626.64 164.04M628.94 165.79L628.35 160.91M631.20 168.88Q630.20 167.63 627.82 169.69M630.20 167.63L628.05 170.54M628.90 172.19Q626.55 171.99 626.92 169.63M626.55 171.99L624.98 172.62M626.75 174.44Q624.12 170.75 622.80 166.55M624.44 176.31Q623.38 173.82 623.25 171.34M623.38 173.82L625.25 170.41M621.18 178.27Q619.20 177.32 617.32 176.91M615.73 180.36Q612.89 177.78 612.58 175.25M612.17 181.11Q610.50 179.69 610.93 178.63M610.40 181.33Q611.30 177.70 608.37 175.11M611.30 177.70L606.95 177.30M605.32 181.50Q605.55 176.92 608.37 172.90M605.55 176.92L609.39 174.29M595.02 179.65Q594.51 177.19 595.56 176.01M594.51 177.19L592.26 175.72M592.12 178.42Q594.21 177.75 590.75 174.96M589.20 176.75Q593.10 173.81 595.34 170.57M593.10 173.81L589.78 169.45M585.89 174.10Q588.13 170.63 591.00 168.63M588.13 170.63L588.62 167.03M582.09 169.37Q582.40 167.23 583.54 167.82M582.40 167.23L582.11 165.99M580.71 166.74Q582.82 164.02 584.37 161.22M582.82 164.02L583.97 161.41M579.54 163.51Q581.65 164.23 581.64 159.52M581.65 164.23L583.34 165.49M578.71 159.59Q582.42 158.23 585.45 155.77M582.42 158.23L585.72 161.15M578.62 151.39Q580.82 151.69 582.66 150.30M579.38 146.42Q581.95 145.05 583.69 144.95M580.41 142.44Q582.87 141.30 583.29 144.74M582.87 141.30L584.31 140.88M582.44 137.17Q583.81 138.41 584.12 140.85M583.81 138.41L583.44 142.06M584.45 133.35Q585.28 133.91 584.65 135.97M585.28 133.91L583.35 138.21M585.65 131.46Q587.30 132.64 587.68 134.75M587.30 132.64L589.02 131.38M587.75 128.64Q590.04 130.57 589.81 134.85M591.03 125.19Q591.08 128.51 591.64 130.60M591.08 128.51L595.55 125.40M593.15 123.44Q594.88 124.93 593.41 128.14M595.85 121.68Q597.04 122.55 596.32 123.78M599.30 120.10Q599.47 121.89 601.41 122.46M599.47 121.89L597.66 123.37M602.09 119.32Q602.73 122.62 602.27 125.54M604.46 118.97Q604.41 122.31 603.04 125.23M607.00 118.89Q605.57 120.45 608.02 121.42M610.70 119.28Q609.58 121.79 607.53 123.65M609.58 121.79L612.09 124.18M614.38 120.36Q613.84 122.08 611.94 122.71M613.84 122.08L616.85 124.34M616.84 121.51Q617.05 123.36 616.69 124.21M622.65 125.83Q622.95 128.36 622.36 129.18M622.95 128.36L623.35 129.69M625.24 128.63Q622.76 130.94 619.67 131.78M622.76 130.94L624.40 134.59M628.01 132.47Q625.10 132.77 624.80 136.05M629.09 134.28Q626.97 134.16 625.90 134.79M630.39 136.79Q629.11 137.28 627.43 135.81M629.11 137.28L627.51 135.09M632.56 142.33Q630.38 142.37 628.59 141.91M630.38 142.37L631.37 148.28M633.44 145.61Q631.68 147.03 629.76 145.27M606.92 120.42 L606.95 124.14 L606.89 127.87 L606.08 131.59 L606.59 135.31 L606.42 139.03 L606.53 142.76 L606.13 146.48 L606.19 150.20 L606.44 153.92 L606.22 157.64 L606.46 161.37 L606.02 165.09 L606.09 168.81 L606.71 172.53 L606.42 176.26 L606.51 179.98M606.08 131.59L608.30 130.26M606.13 146.48L603.45 146.95M606.46 161.37L603.01 160.96" fill="none" stroke="#f0a020" stroke-width="4.6" stroke-linecap="round" stroke-linejoin="round" opacity="0.5"/>
<path d="M633.70 150.20 L633.93 152.49 L634.02 154.62 L633.99 156.67 L633.83 158.67 L633.55 160.62 L633.14 162.50 L632.60 164.32 L631.93 166.07 L631.14 167.74 L630.22 169.34 L629.18 170.85 L628.02 172.27 L626.75 173.60 L625.36 174.83 L623.87 175.95 L622.27 176.97 L620.59 177.88 L618.81 178.67 L616.96 179.35 L615.02 179.90 L613.02 180.34 L610.95 180.65 L608.81 180.84 L606.50 180.90 L604.19 180.84 L602.05 180.65 L599.98 180.34 L597.98 179.90 L596.04 179.35 L594.19 178.67 L592.41 177.88 L590.73 176.97 L589.13 175.95 L587.64 174.83 L586.25 173.60 L584.98 172.27 L583.82 170.85 L582.78 169.34 L581.86 167.74 L581.07 166.07 L580.40 164.32 L579.86 162.50 L579.45 160.62 L579.17 158.67 L579.01 156.67 L578.98 154.62 L579.07 152.49 L579.30 150.20 L579.64 147.91 L580.06 145.78 L580.59 143.73 L581.20 141.73 L581.90 139.78 L582.69 137.90 L583.56 136.08 L584.50 134.33 L585.51 132.66 L586.59 131.06 L587.72 129.55 L588.91 128.13 L590.16 126.80 L591.45 125.57 L592.78 124.45 L594.16 123.43 L595.57 122.52 L597.02 121.73 L598.50 121.05 L600.01 120.50 L601.55 120.06 L603.13 119.75 L604.76 119.56 L606.50 119.50 L608.24 119.56 L609.87 119.75 L611.45 120.06 L612.99 120.50 L614.50 121.05 L615.98 121.73 L617.43 122.52 L618.84 123.43 L620.22 124.45 L621.55 125.57 L622.84 126.80 L624.09 128.13 L625.28 129.55 L626.41 131.06 L627.49 132.66 L628.50 134.33 L629.44 136.08 L630.31 137.90 L631.10 139.78 L631.80 141.73 L632.41 143.73 L632.94 145.78 L633.36 147.91Z" fill="none" stroke="#b0300c" stroke-width="2.2"/>
<path d="M634.42 151.87Q633.27 150.28 632.60 148.65M634.56 154.02Q633.24 153.05 632.56 154.49M634.35 159.09Q630.84 159.46 628.23 157.67M630.84 159.46L630.47 155.18M633.76 162.38Q631.86 159.71 630.03 159.56M631.86 159.71L631.48 156.31M632.36 166.58Q628.94 165.79 626.64 164.04M628.94 165.79L628.35 160.91M631.20 168.88Q630.20 167.63 627.82 169.69M630.20 167.63L628.05 170.54M628.90 172.19Q626.55 171.99 626.92 169.63M626.55 171.99L624.98 172.62M626.75 174.44Q624.12 170.75 622.80 166.55M624.44 176.31Q623.38 173.82 623.25 171.34M623.38 173.82L625.25 170.41M621.18 178.27Q619.20 177.32 617.32 176.91M615.73 180.36Q612.89 177.78 612.58 175.25M612.17 181.11Q610.50 179.69 610.93 178.63M610.40 181.33Q611.30 177.70 608.37 175.11M611.30 177.70L606.95 177.30M605.32 181.50Q605.55 176.92 608.37 172.90M605.55 176.92L609.39 174.29M595.02 179.65Q594.51 177.19 595.56 176.01M594.51 177.19L592.26 175.72M592.12 178.42Q594.21 177.75 590.75 174.96M589.20 176.75Q593.10 173.81 595.34 170.57M593.10 173.81L589.78 169.45M585.89 174.10Q588.13 170.63 591.00 168.63M588.13 170.63L588.62 167.03M582.09 169.37Q582.40 167.23 583.54 167.82M582.40 167.23L582.11 165.99M580.71 166.74Q582.82 164.02 584.37 161.22M582.82 164.02L583.97 161.41M579.54 163.51Q581.65 164.23 581.64 159.52M581.65 164.23L583.34 165.49M578.71 159.59Q582.42 158.23 585.45 155.77M582.42 158.23L585.72 161.15M578.62 151.39Q580.82 151.69 582.66 150.30M579.38 146.42Q581.95 145.05 583.69 144.95M580.41 142.44Q582.87 141.30 583.29 144.74M582.87 141.30L584.31 140.88M582.44 137.17Q583.81 138.41 584.12 140.85M583.81 138.41L583.44 142.06M584.45 133.35Q585.28 133.91 584.65 135.97M585.28 133.91L583.35 138.21M585.65 131.46Q587.30 132.64 587.68 134.75M587.30 132.64L589.02 131.38M587.75 128.64Q590.04 130.57 589.81 134.85M591.03 125.19Q591.08 128.51 591.64 130.60M591.08 128.51L595.55 125.40M593.15 123.44Q594.88 124.93 593.41 128.14M595.85 121.68Q597.04 122.55 596.32 123.78M599.30 120.10Q599.47 121.89 601.41 122.46M599.47 121.89L597.66 123.37M602.09 119.32Q602.73 122.62 602.27 125.54M604.46 118.97Q604.41 122.31 603.04 125.23M607.00 118.89Q605.57 120.45 608.02 121.42M610.70 119.28Q609.58 121.79 607.53 123.65M609.58 121.79L612.09 124.18M614.38 120.36Q613.84 122.08 611.94 122.71M613.84 122.08L616.85 124.34M616.84 121.51Q617.05 123.36 616.69 124.21M622.65 125.83Q622.95 128.36 622.36 129.18M622.95 128.36L623.35 129.69M625.24 128.63Q622.76 130.94 619.67 131.78M622.76 130.94L624.40 134.59M628.01 132.47Q625.10 132.77 624.80 136.05M629.09 134.28Q626.97 134.16 625.90 134.79M630.39 136.79Q629.11 137.28 627.43 135.81M629.11 137.28L627.51 135.09M632.56 142.33Q630.38 142.37 628.59 141.91M630.38 142.37L631.37 148.28M633.44 145.61Q631.68 147.03 629.76 145.27" fill="none" stroke="#c4320e" stroke-width="1.7" stroke-linecap="round" stroke-linejoin="round"/>
<path d="M606.92 120.42 L606.95 124.14 L606.89 127.87 L606.08 131.59 L606.59 135.31 L606.42 139.03 L606.53 142.76 L606.13 146.48 L606.19 150.20 L606.44 153.92 L606.22 157.64 L606.46 161.37 L606.02 165.09 L606.09 168.81 L606.71 172.53 L606.42 176.26 L606.51 179.98M606.08 131.59L608.30 130.26M606.13 146.48L603.45 146.95M606.46 161.37L603.01 160.96" fill="none" stroke="#b82c0a" stroke-width="2.0" stroke-linecap="round"/>
</g>
<ellipse cx="526.2" cy="249.2" rx="30.7" ry="38.1" fill="#161c1c" stroke="#4c5454" stroke-width="0.9"/>
<ellipse cx="526.2" cy="249.7" rx="27.0" ry="33.4" fill="#060606" stroke="#4a5252" stroke-width="0.8"/>
<filter id="fnc1i" x="0" y="0" width="1" height="1" color-interpolation-filters="sRGB"><feTurbulence type="fractalNoise" baseFrequency="0.26" numOctaves="3" seed="3" result="n"/><feColorMatrix in="n" type="matrix" values="1.8 0 0 0 -0.400  1.8 0 0 0 -0.400  1.8 0 0 0 -0.400  0 0 0 0 1" result="g"/><feComponentTransfer in="g" result="c"><feFuncR type="table" tableValues="0.720 0.867 1.000 1.000 1.000 1.000 1.000 1.000 1.000 1.000 1.000"/><feFuncG type="table" tableValues="0.000 0.000 0.013 0.160 0.307 0.453 0.600 0.747 0.893 1.000 1.000"/><feFuncB type="table" tableValues="0.000 0.000 0.000 0.000 0.000 0.000 0.000 0.000 0.000 0.060 0.280"/></feComponentTransfer><feComposite in="c" in2="SourceGraphic" operator="in"/></filter>
<filter id="fnc1e" x="0" y="0" width="1" height="1" color-interpolation-filters="sRGB"><feTurbulence type="fractalNoise" baseFrequency="0.312" numOctaves="3" seed="13" result="n"/><feColorMatrix in="n" type="matrix" values="1.8 0 0 0 -0.400  1.8 0 0 0 -0.400  1.8 0 0 0 -0.400  0 0 0 0 1" result="g"/><feComponentTransfer in="g" result="c"><feFuncR type="table" tableValues="1.000 1.000 1.000 1.000 1.000 1.000 1.000 1.000 1.000 1.000 1.000"/><feFuncG type="table" tableValues="0.200 0.347 0.493 0.640 0.787 0.933 1.000 1.000 1.000 1.000 1.000"/><feFuncB type="table" tableValues="0.000 0.000 0.000 0.000 0.000 0.000 0.120 0.340 0.560 0.780 1.000"/></feComponentTransfer><feComposite in="c" in2="SourceGraphic" operator="in"/></filter>
<clipPath id="cpc1"><path d="M552.30 249.50 L552.52 251.85 L552.61 254.03 L552.58 256.14 L552.43 258.19 L552.16 260.19 L551.76 262.12 L551.24 263.98 L550.61 265.78 L549.84 267.50 L548.96 269.13 L547.96 270.69 L546.85 272.14 L545.63 273.51 L544.30 274.77 L542.86 275.92 L541.33 276.97 L539.72 277.90 L538.01 278.71 L536.23 279.41 L534.38 279.98 L532.46 280.42 L530.47 280.74 L528.42 280.94 L526.20 281.00 L523.98 280.94 L521.93 280.74 L519.94 280.42 L518.02 279.98 L516.17 279.41 L514.39 278.71 L512.68 277.90 L511.07 276.97 L509.54 275.92 L508.10 274.77 L506.77 273.51 L505.55 272.14 L504.44 270.69 L503.44 269.13 L502.56 267.50 L501.79 265.78 L501.16 263.98 L500.64 262.12 L500.24 260.19 L499.97 258.19 L499.82 256.14 L499.79 254.03 L499.88 251.85 L500.10 249.50 L500.42 247.15 L500.83 244.97 L501.33 242.86 L501.92 240.81 L502.60 238.81 L503.35 236.88 L504.18 235.02 L505.09 233.22 L506.06 231.50 L507.09 229.87 L508.18 228.31 L509.33 226.86 L510.52 225.49 L511.76 224.23 L513.04 223.08 L514.36 222.03 L515.71 221.10 L517.10 220.29 L518.52 219.59 L519.97 219.02 L521.45 218.58 L522.97 218.26 L524.53 218.06 L526.20 218.00 L527.87 218.06 L529.43 218.26 L530.95 218.58 L532.43 219.02 L533.88 219.59 L535.30 220.29 L536.69 221.10 L538.04 222.03 L539.36 223.08 L540.64 224.23 L541.88 225.49 L543.07 226.86 L544.22 228.31 L545.31 229.87 L546.34 231.50 L547.31 233.22 L548.22 235.02 L549.05 236.88 L549.80 238.81 L550.48 240.81 L551.07 242.86 L551.57 244.97 L551.98 247.15Z"/></clipPath>
<g clip-path="url(#cpc1)">
<rect x="497.1" y="215.0" width="58.2" height="69.0" fill="#000" filter="url(#fnc1i)"/>
<path d="M552.30 249.50 L552.52 251.85 L552.61 254.03 L552.58 256.14 L552.43 258.19 L552.16 260.19 L551.76 262.12 L551.24 263.98 L550.61 265.78 L549.84 267.50 L548.96 269.13 L547.96 270.69 L546.85 272.14 L545.63 273.51 L544.30 274.77 L542.86 275.92 L541.33 276.97 L539.72 277.90 L538.01 278.71 L536.23 279.41 L534.38 279.98 L532.46 280.42 L530.47 280.74 L528.42 280.94 L526.20 281.00 L523.98 280.94 L521.93 280.74 L519.94 280.42 L518.02 279.98 L516.17 279.41 L514.39 278.71 L512.68 277.90 L511.07 276.97 L509.54 275.92 L508.10 274.77 L506.77 273.51 L505.55 272.14 L504.44 270.69 L503.44 269.13 L502.56 267.50 L501.79 265.78 L501.16 263.98 L500.64 262.12 L500.24 260.19 L499.97 258.19 L499.82 256.14 L499.79 254.03 L499.88 251.85 L500.10 249.50 L500.42 247.15 L500.83 244.97 L501.33 242.86 L501.92 240.81 L502.60 238.81 L503.35 236.88 L504.18 235.02 L505.09 233.22 L506.06 231.50 L507.09 229.87 L508.18 228.31 L509.33 226.86 L510.52 225.49 L511.76 224.23 L513.04 223.08 L514.36 222.03 L515.71 221.10 L517.10 220.29 L518.52 219.59 L519.97 219.02 L521.45 218.58 L522.97 218.26 L524.53 218.06 L526.20 218.00 L527.87 218.06 L529.43 218.26 L530.95 218.58 L532.43 219.02 L533.88 219.59 L535.30 220.29 L536.69 221.10 L538.04 222.03 L539.36 223.08 L540.64 224.23 L541.88 225.49 L543.07 226.86 L544.22 228.31 L545.31 229.87 L546.34 231.50 L547.31 233.22 L548.22 235.02 L549.05 236.88 L549.80 238.81 L550.48 240.81 L551.07 242.86 L551.57 244.97 L551.98 247.15Z" fill="none" stroke="#000" stroke-width="4.0" filter="url(#fnc1e)"/>
<ellipse cx="512" cy="238" rx="11" ry="16" fill="#f4e040" opacity="0.35" filter="url(#blur3)"/><ellipse cx="534" cy="250" rx="9" ry="22" fill="#e04818" opacity="0.28" filter="url(#blur3)"/><path d="M526.3 219L526.0 235L526.6 250L526.1 266L526.4 281" stroke="#901818" stroke-width="1.3" fill="none" opacity="0.8" stroke-dasharray="2 1.2"/>
<path d="M553.11 256.12Q549.99 254.26 547.24 256.26M549.99 254.26L549.09 250.94M552.03 263.31Q550.03 260.52 548.41 258.16M550.01 268.45Q545.67 266.97 543.97 261.83M545.67 266.97L545.44 260.09M546.74 273.21Q545.15 268.90 541.03 268.49M541.01 277.90Q540.09 273.78 536.94 271.74M540.09 273.78L540.65 271.72M535.72 280.24Q534.67 273.64 530.94 268.55M534.67 273.64L529.22 271.34M527.33 281.61Q529.03 276.89 525.19 273.00M529.03 276.89L530.91 275.02M523.72 281.55Q525.37 273.75 525.59 266.51M525.37 273.75L527.73 271.67M518.29 280.70Q519.80 277.30 518.75 273.89M510.86 277.58Q514.71 271.37 517.20 265.06M503.50 270.37Q505.63 267.14 509.08 267.04M499.78 260.72Q502.46 260.48 504.71 260.73M502.46 260.48L504.42 262.56M499.26 254.37Q502.65 252.25 505.45 252.08M499.62 249.11Q505.21 250.35 510.37 250.87M500.68 243.34Q504.51 244.17 507.58 245.93M504.51 244.17L507.59 241.10M502.54 237.52Q504.72 240.23 507.18 240.69M504.72 240.23L508.05 235.23M506.52 229.76Q507.13 232.86 509.17 232.66M509.25 226.09Q510.17 229.09 510.45 232.15M510.17 229.09L509.76 231.10M513.42 222.02Q516.07 224.21 517.58 226.56M520.14 218.32Q521.17 224.78 521.08 231.06M521.17 224.78L524.81 229.31M522.64 217.68Q522.15 220.41 522.21 222.39M530.74 217.88Q530.98 221.80 531.28 225.15M539.68 222.59Q538.76 227.46 535.15 229.21M542.12 224.93Q538.95 227.11 538.46 231.22M545.40 229.04Q543.15 230.22 540.89 230.54M548.80 235.02Q544.12 239.10 538.77 240.47M552.03 244.69Q545.46 244.37 540.09 246.88" fill="none" stroke="#fff4b0" stroke-width="1.8" stroke-linecap="round" opacity="0.35"/>
<path d="M552.53 247.33Q550.26 247.50 548.74 249.29M550.26 247.50L549.79 252.79M553.03 257.57Q548.48 257.17 544.73 253.05M548.48 257.17L545.20 251.38M551.63 264.63Q549.20 261.17 546.94 258.95M549.20 261.17L546.49 264.47M548.23 271.34Q546.25 268.38 543.62 267.36M546.25 268.38L546.89 265.32M546.05 273.95Q544.34 271.42 544.23 267.89M540.55 278.16Q538.40 270.84 533.64 265.79M538.40 270.84L534.72 270.97M536.70 279.91Q535.23 273.87 533.46 268.60M530.01 281.43Q530.41 276.31 529.52 271.99M526.86 281.63Q525.99 272.60 527.06 264.18M525.99 272.60L529.85 267.65M513.99 279.23Q515.97 275.18 518.52 272.01M515.97 275.18L514.55 270.71M511.45 277.93Q514.19 275.57 513.36 271.91M514.19 275.57L511.66 271.45M508.21 275.67Q509.53 271.41 511.63 268.67M503.08 269.69Q504.97 265.93 506.77 263.06M504.97 265.93L506.29 264.25M502.09 267.88Q508.95 264.26 514.35 259.19M500.19 262.65Q505.97 259.23 511.66 257.73M505.97 259.23L508.27 261.68M499.33 256.99Q507.02 255.44 514.07 252.12M499.41 251.14Q505.06 252.60 510.40 250.41M502.74 237.00Q506.86 238.61 510.16 240.83M506.86 238.61L510.90 237.51M504.27 233.65Q506.37 237.32 509.43 237.75M508.36 227.18Q512.60 233.42 518.21 237.12M512.60 233.42L516.95 233.64M509.97 225.27Q511.82 226.84 510.59 231.18M511.82 226.84L510.36 229.56M513.38 222.05Q514.61 223.22 515.80 223.73M514.61 223.22L512.35 226.00M517.85 219.23Q518.31 221.00 518.15 222.41M523.06 217.61Q522.96 226.44 524.29 234.35M527.27 217.39Q527.49 224.38 527.09 230.69M527.49 224.38L528.84 226.85M531.77 218.16Q529.78 223.39 529.55 228.42M529.78 223.39L528.75 226.38M534.05 219.00Q532.58 226.02 531.98 232.84M532.58 226.02L529.38 229.89M537.04 220.63Q533.20 228.53 530.14 236.24M533.20 228.53L535.24 233.34M542.14 224.95Q539.45 226.74 540.10 231.29M544.39 227.64Q541.70 230.04 538.84 231.41M548.08 233.55Q543.67 235.19 540.25 237.56M549.39 236.36Q544.74 237.91 541.75 242.05M544.74 237.91L543.72 241.92M551.96 244.35Q548.39 244.12 545.62 245.04M548.39 244.12L548.42 250.44" fill="none" stroke="#d02810" stroke-width="1.3" stroke-linecap="round" opacity="0.6"/>
</g>
<ellipse cx="607.3" cy="249.6" rx="31.2" ry="39.1" fill="#161c1c" stroke="#4c5454" stroke-width="0.9"/>
<ellipse cx="607.2" cy="248.89999999999998" rx="28.0" ry="34.0" fill="#060606" stroke="#4a5252" stroke-width="0.8"/>
<filter id="fnc2i" x="0" y="0" width="1" height="1" color-interpolation-filters="sRGB"><feTurbulence type="fractalNoise" baseFrequency="0.26" numOctaves="3" seed="5" result="n"/><feColorMatrix in="n" type="matrix" values="1.8 0 0 0 -0.400  1.8 0 0 0 -0.400  1.8 0 0 0 -0.400  0 0 0 0 1" result="g"/><feComponentTransfer in="g" result="c"><feFuncR type="table" tableValues="0.640 0.741 0.843 0.944 1.000 1.000 1.000 1.000 1.000 1.000 1.000"/><feFuncG type="table" tableValues="0.000 0.000 0.000 0.000 0.045 0.147 0.248 0.349 0.451 0.552 0.653"/><feFuncB type="table" tableValues="0.000 0.000 0.000 0.000 0.000 0.000 0.000 0.000 0.000 0.000 0.000"/></feComponentTransfer><feComposite in="c" in2="SourceGraphic" operator="in"/></filter>
<filter id="fnc2e" x="0" y="0" width="1" height="1" color-interpolation-filters="sRGB"><feTurbulence type="fractalNoise" baseFrequency="0.312" numOctaves="3" seed="15" result="n"/><feColorMatrix in="n" type="matrix" values="1.8 0 0 0 -0.400  1.8 0 0 0 -0.400  1.8 0 0 0 -0.400  0 0 0 0 1" result="g"/><feComponentTransfer in="g" result="c"><feFuncR type="table" tableValues="1.000 1.000 1.000 1.000 1.000 1.000 1.000 1.000 1.000 1.000 1.000"/><feFuncG type="table" tableValues="0.067 0.221 0.376 0.531 0.685 0.840 0.995 1.000 1.000 1.000 1.000"/><feFuncB type="table" tableValues="0.000 0.000 0.000 0.000 0.000 0.000 0.000 0.224 0.456 0.688 0.920"/></feComponentTransfer><feComposite in="c" in2="SourceGraphic" operator="in"/></filter>
<clipPath id="cpc2"><path d="M634.30 248.70 L634.53 251.09 L634.62 253.32 L634.59 255.47 L634.43 257.56 L634.15 259.59 L633.74 261.56 L633.20 263.46 L632.54 265.29 L631.75 267.04 L630.84 268.71 L629.80 270.29 L628.64 271.78 L627.37 273.16 L625.99 274.45 L624.50 275.63 L622.91 276.69 L621.23 277.64 L619.47 278.47 L617.62 279.18 L615.69 279.76 L613.70 280.21 L611.64 280.54 L609.50 280.73 L607.20 280.80 L604.90 280.73 L602.76 280.54 L600.70 280.21 L598.71 279.76 L596.78 279.18 L594.93 278.47 L593.17 277.64 L591.49 276.69 L589.90 275.63 L588.41 274.45 L587.03 273.16 L585.76 271.78 L584.60 270.29 L583.56 268.71 L582.65 267.04 L581.86 265.29 L581.20 263.46 L580.66 261.56 L580.25 259.59 L579.97 257.56 L579.81 255.47 L579.78 253.32 L579.87 251.09 L580.10 248.70 L580.44 246.31 L580.86 244.08 L581.38 241.93 L581.99 239.84 L582.69 237.81 L583.48 235.84 L584.34 233.94 L585.28 232.11 L586.29 230.36 L587.36 228.69 L588.49 227.11 L589.68 225.62 L590.92 224.24 L592.20 222.95 L593.53 221.77 L594.90 220.71 L596.31 219.76 L597.75 218.93 L599.23 218.22 L600.73 217.64 L602.27 217.19 L603.84 216.86 L605.46 216.67 L607.20 216.60 L608.94 216.67 L610.56 216.86 L612.13 217.19 L613.67 217.64 L615.17 218.22 L616.65 218.93 L618.09 219.76 L619.50 220.71 L620.87 221.77 L622.20 222.95 L623.48 224.24 L624.72 225.62 L625.91 227.11 L627.04 228.69 L628.11 230.36 L629.12 232.11 L630.06 233.94 L630.92 235.84 L631.71 237.81 L632.41 239.84 L633.02 241.93 L633.54 244.08 L633.96 246.31Z"/></clipPath>
<g clip-path="url(#cpc2)">
<rect x="577.1" y="213.6" width="60.2" height="70.2" fill="#000" filter="url(#fnc2i)"/>
<path d="M634.30 248.70 L634.53 251.09 L634.62 253.32 L634.59 255.47 L634.43 257.56 L634.15 259.59 L633.74 261.56 L633.20 263.46 L632.54 265.29 L631.75 267.04 L630.84 268.71 L629.80 270.29 L628.64 271.78 L627.37 273.16 L625.99 274.45 L624.50 275.63 L622.91 276.69 L621.23 277.64 L619.47 278.47 L617.62 279.18 L615.69 279.76 L613.70 280.21 L611.64 280.54 L609.50 280.73 L607.20 280.80 L604.90 280.73 L602.76 280.54 L600.70 280.21 L598.71 279.76 L596.78 279.18 L594.93 278.47 L593.17 277.64 L591.49 276.69 L589.90 275.63 L588.41 274.45 L587.03 273.16 L585.76 271.78 L584.60 270.29 L583.56 268.71 L582.65 267.04 L581.86 265.29 L581.20 263.46 L580.66 261.56 L580.25 259.59 L579.97 257.56 L579.81 255.47 L579.78 253.32 L579.87 251.09 L580.10 248.70 L580.44 246.31 L580.86 244.08 L581.38 241.93 L581.99 239.84 L582.69 237.81 L583.48 235.84 L584.34 233.94 L585.28 232.11 L586.29 230.36 L587.36 228.69 L588.49 227.11 L589.68 225.62 L590.92 224.24 L592.20 222.95 L593.53 221.77 L594.90 220.71 L596.31 219.76 L597.75 218.93 L599.23 218.22 L600.73 217.64 L602.27 217.19 L603.84 216.86 L605.46 216.67 L607.20 216.60 L608.94 216.67 L610.56 216.86 L612.13 217.19 L613.67 217.64 L615.17 218.22 L616.65 218.93 L618.09 219.76 L619.50 220.71 L620.87 221.77 L622.20 222.95 L623.48 224.24 L624.72 225.62 L625.91 227.11 L627.04 228.69 L628.11 230.36 L629.12 232.11 L630.06 233.94 L630.92 235.84 L631.71 237.81 L632.41 239.84 L633.02 241.93 L633.54 244.08 L633.96 246.31Z" fill="none" stroke="#000" stroke-width="4.0" filter="url(#fnc2e)"/>
<ellipse cx="583" cy="258" rx="4" ry="14" fill="#f0e040" opacity="0.55" filter="url(#blur3)"/><ellipse cx="607" cy="250" rx="8" ry="20" fill="#c01810" opacity="0.3" filter="url(#blur3)"/><path d="M607.2 219L606.8 235L607.5 250L606.9 266L607.3 280" stroke="#801830" stroke-width="1.4" fill="none" opacity="0.7" stroke-dasharray="1.5 1.5"/>
<path d="M634.76 248.00Q632.80 248.44 631.47 249.65M635.17 254.65Q631.99 254.64 629.28 255.55M631.99 254.64L629.39 248.34M634.60 260.29Q628.54 256.36 622.53 255.58M628.54 256.36L625.37 260.18M632.26 267.37Q629.89 263.91 625.71 265.34M626.79 274.59Q621.66 269.90 617.72 265.02M621.66 269.90L623.01 266.38M623.46 277.11Q620.26 268.96 616.48 261.93M616.77 280.12Q617.06 274.89 614.31 271.38M617.06 274.89L617.80 271.34M609.55 281.38Q608.37 276.89 606.39 273.00M608.37 276.89L612.78 274.45M602.25 281.12Q602.04 276.42 602.52 272.48M602.04 276.42L601.16 273.54M597.88 280.20Q598.47 275.50 598.74 271.34M591.66 277.54Q594.30 272.27 598.15 268.39M594.30 272.27L592.29 269.27M589.10 275.83Q592.14 273.06 592.47 269.05M592.14 273.06L590.21 268.28M584.35 270.99Q587.17 266.69 592.36 266.48M580.98 264.65Q586.46 262.58 590.30 257.78M580.45 263.02Q585.90 259.41 590.72 255.45M579.29 256.16Q586.52 253.09 593.26 250.94M586.52 253.09L591.64 250.79M579.70 247.60Q584.81 249.00 589.47 249.85M580.27 244.31Q583.93 246.81 588.19 243.63M585.93 229.89Q591.03 234.98 595.53 240.07M587.72 227.21Q591.81 230.95 594.98 235.01M591.81 230.95L595.37 231.31M592.14 222.22Q595.31 228.81 598.96 234.14M595.31 228.81L596.32 234.21M595.00 219.91Q597.10 222.34 598.82 224.35M597.10 222.34L598.47 222.96M598.74 217.76Q601.77 226.46 603.16 235.19M603.21 216.33Q602.56 219.49 602.20 221.98M602.56 219.49L601.52 221.80M608.95 216.02Q610.37 218.68 610.70 220.59M615.53 217.70Q613.99 226.83 611.69 234.93M613.99 226.83L609.54 232.42M619.27 219.82Q617.62 225.10 615.76 229.50M622.56 222.49Q619.11 225.34 617.50 229.03M619.11 225.34L621.25 229.44M626.87 227.48Q626.70 230.51 623.94 228.84M626.70 230.51L622.87 227.26M628.79 230.42Q624.10 234.04 619.45 236.72M630.84 234.34Q628.86 236.45 626.73 236.91M633.60 242.04Q631.53 240.81 630.71 242.05" fill="none" stroke="#f89020" stroke-width="1.8" stroke-linecap="round" opacity="0.5"/>
<path d="M635.17 253.82Q629.00 254.13 623.35 249.67M629.00 254.13L626.91 250.13M634.48 260.92Q631.33 259.18 628.64 257.99M631.33 259.18L630.98 254.89M633.17 265.32Q631.75 262.60 630.06 262.44M631.75 262.60L628.50 266.69M630.07 270.96Q624.03 265.30 617.89 260.72M626.21 275.10Q622.80 268.86 619.10 263.73M622.80 268.86L622.78 264.61M623.39 277.15Q620.90 274.03 618.82 271.39M620.17 278.87Q617.89 273.24 616.61 267.83M612.29 281.10Q613.68 278.06 609.36 276.50M599.45 280.60Q601.13 273.70 601.01 266.96M597.41 280.06Q598.77 272.86 601.84 266.90M591.67 277.55Q592.68 273.68 593.29 270.26M592.68 273.68L597.89 274.50M588.43 275.29Q592.32 267.32 597.05 260.93M592.32 267.32L598.19 266.01M584.34 270.98Q587.00 268.61 587.65 264.26M581.74 266.53Q583.01 263.92 585.45 265.46M579.75 260.01Q585.74 256.53 591.48 255.04M585.74 256.53L587.12 253.87M579.26 255.52Q585.78 254.85 591.64 252.19M585.78 254.85L591.06 249.42M579.58 248.51Q582.53 250.13 585.31 248.34M581.27 240.39Q587.27 241.49 592.18 244.38M582.25 237.46Q585.95 240.98 589.46 243.57M594.15 220.53Q596.09 224.42 598.43 227.30M598.81 217.73Q599.20 223.65 602.17 227.67M599.20 223.65L603.33 225.76M603.30 216.31Q603.23 219.97 605.82 222.57M603.23 219.97L601.06 221.52M605.98 215.99Q607.17 223.92 607.81 231.25M607.17 223.92L604.01 230.56M612.88 216.73Q611.60 222.30 609.26 227.01M611.60 222.30L612.98 226.77M615.69 217.77Q614.67 222.13 614.40 226.17M614.67 222.13L616.20 223.96M626.62 227.13Q623.05 231.12 620.79 236.04M623.05 231.12L619.78 229.87M628.73 230.32Q626.05 233.20 623.09 234.55M631.98 237.01Q629.73 236.84 628.54 237.84M633.48 241.59Q627.60 243.02 622.84 246.95" fill="none" stroke="#b01808" stroke-width="1.1" stroke-linecap="round" opacity="0.45"/>
</g>
</g>
<ellipse cx="559.6" cy="209.3" rx="1.6" ry="1.1" fill="#b02010" opacity="0.8"/>
<rect x="521.5" y="3.2" width="1" height="1" fill="#aaa"/><rect x="597.5" y="3.2" width="1" height="1" fill="#aaa"/>
<rect x="607" y="101.6" width="1" height="1" fill="#aaa"/><rect x="607" y="201.2" width="1.2" height="1" fill="#999"/>
<rect x="653.2" y="5.8" width="4.6" height="90.1" fill="url(#ghot)" stroke="#444" stroke-width="0.4"/>
<rect x="654.1" y="104.6" width="5.2" height="90.6" fill="url(#ghot)" stroke="#444" stroke-width="0.4"/>
<rect x="654.3" y="204.1" width="5.2" height="89.3" fill="url(#ghot)" stroke="#444" stroke-width="0.4"/>
<text x="659.6" y="7.50" class="hb">18</text>
<text x="661.0" y="106.50" class="hb">18</text>
<text x="659.6" y="18.81" class="hb">16</text>
<text x="661.0" y="117.90" class="hb">16</text>
<text x="659.6" y="30.12" class="hb">14</text>
<text x="661.0" y="129.30" class="hb">14</text>
<text x="659.6" y="41.44" class="hb">12</text>
<text x="661.0" y="140.70" class="hb">12</text>
<text x="659.6" y="52.75" class="hb">10</text>
<text x="661.0" y="152.10" class="hb">10</text>
<text x="659.6" y="64.06" class="hb">8</text>
<text x="661.0" y="163.50" class="hb">8</text>
<text x="659.6" y="75.38" class="hb">6</text>
<text x="661.0" y="174.90" class="hb">6</text>
<text x="659.6" y="86.69" class="hb">4</text>
<text x="661.0" y="186.30" class="hb">4</text>
<text x="659.6" y="98.00" class="hb">2</text>
<text x="661.0" y="197.70" class="hb">2</text>
<text x="661.6" y="206.70" class="hb">6</text>
<text x="661.6" y="221.60" class="hb">5</text>
<text x="661.6" y="236.50" class="hb">4</text>
<text x="661.6" y="251.40" class="hb">3</text>
<text x="661.6" y="266.30" class="hb">2</text>
<text x="661.6" y="281.20" class="hb">1</text>
<text x="661.6" y="296.10" class="hb">0</text>
<text x="488.5" y="20.1" letter-spacing="-0.75" style="font:bold 14px 'Liberation Sans',sans-serif;fill:#fff">(e)</text>
<text transform="translate(478.4,54.5) rotate(-90)" text-anchor="middle" class="el" textLength="64" lengthAdjust="spacingAndGlyphs">R<tspan font-size="7" dy="1.6">1</tspan><tspan dy="-1.6">ρ at fsl=0Hz</tspan></text>
<text transform="translate(478.4,147.3) rotate(-90)" text-anchor="middle" class="el" textLength="73" lengthAdjust="spacingAndGlyphs">R<tspan font-size="7" dy="1.6">1</tspan><tspan dy="-1.6">ρ at fsl=300Hz</tspan></text>
<text transform="translate(478.4,248) rotate(-90)" text-anchor="middle" class="el" textLength="41" lengthAdjust="spacingAndGlyphs">ΔR<tspan font-size="7" dy="1.6">1</tspan><tspan dy="-1.6">ρ (Hz)</tspan></text>
<text x="527.6" y="308.6" text-anchor="middle" style="font:bold 10px 'Liberation Sans',sans-serif;fill:#1a1a1a" textLength="54.8" lengthAdjust="spacingAndGlyphs">MCI patient</text>
<text x="615.5" y="308.6" text-anchor="middle" style="font:bold 10px 'Liberation Sans',sans-serif;fill:#1a1a1a" textLength="72.8" lengthAdjust="spacingAndGlyphs">Healthy control</text>
</g>
</svg></body></html>
